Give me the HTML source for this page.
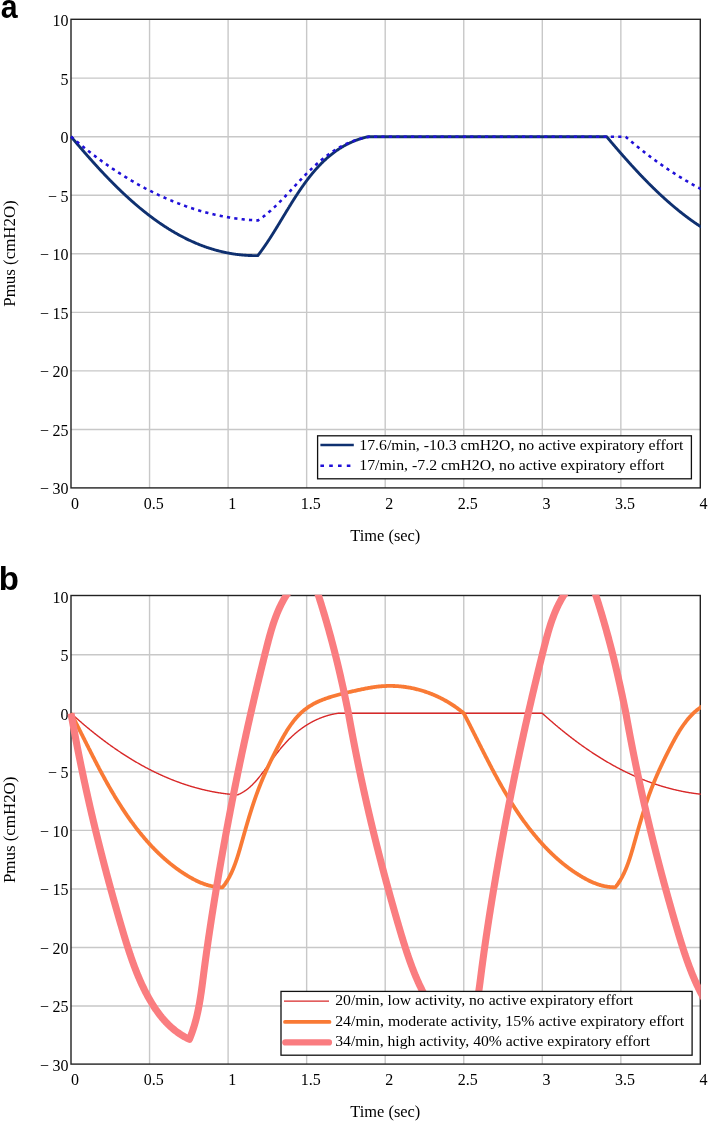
<!DOCTYPE html>
<html><head><meta charset="utf-8"><style>
html,body{margin:0;padding:0;background:#fff;}
svg{display:block;}
text{font-family:"Liberation Serif",serif;}
</style></head><body>
<svg width="709" height="1122" viewBox="0 0 709 1122" style="will-change:transform">
<rect x="0" y="0" width="709" height="1122" fill="#fff"/>
<defs>
<clipPath id="ca"><rect x="66" y="18.8" width="634.8" height="469.6"/></clipPath>
<clipPath id="cb"><rect x="66" y="594.8" width="634.8" height="469.8"/></clipPath>
</defs>

<path d="M149.55 19.30V487.90 M228.10 19.30V487.90 M306.65 19.30V487.90 M385.20 19.30V487.90 M463.75 19.30V487.90 M542.30 19.30V487.90 M620.85 19.30V487.90 M71.00 78.15H700.30 M71.00 136.70H700.30 M71.00 195.25H700.30 M71.00 253.80H700.30 M71.00 312.35H700.30 M71.00 370.90H700.30 M71.00 429.45H700.30" stroke="#c8c8c8" stroke-width="1.4" fill="none"/>
<rect x="71.00" y="19.30" width="629.30" height="468.60" fill="none" stroke="#222" stroke-width="1.4"/>
<text x="68.6" y="26.00" font-size="16" text-anchor="end">10</text>
<text x="68.6" y="84.55" font-size="16" text-anchor="end">5</text>
<text x="68.6" y="143.10" font-size="16" text-anchor="end">0</text>
<text x="68.6" y="201.65" font-size="16" text-anchor="end">5</text>
<text x="57.00" y="201.65" font-size="16" text-anchor="end">−</text>
<text x="68.6" y="260.20" font-size="16" text-anchor="end">10</text>
<text x="49.00" y="260.20" font-size="16" text-anchor="end">−</text>
<text x="68.6" y="318.75" font-size="16" text-anchor="end">15</text>
<text x="49.00" y="318.75" font-size="16" text-anchor="end">−</text>
<text x="68.6" y="377.30" font-size="16" text-anchor="end">20</text>
<text x="49.00" y="377.30" font-size="16" text-anchor="end">−</text>
<text x="68.6" y="435.85" font-size="16" text-anchor="end">25</text>
<text x="49.00" y="435.85" font-size="16" text-anchor="end">−</text>
<text x="68.6" y="494.40" font-size="16" text-anchor="end">30</text>
<text x="49.00" y="494.40" font-size="16" text-anchor="end">−</text>
<text x="75.10" y="508.70" font-size="16" text-anchor="middle">0</text>
<text x="153.65" y="508.70" font-size="16" text-anchor="middle">0.5</text>
<text x="232.20" y="508.70" font-size="16" text-anchor="middle">1</text>
<text x="310.75" y="508.70" font-size="16" text-anchor="middle">1.5</text>
<text x="389.30" y="508.70" font-size="16" text-anchor="middle">2</text>
<text x="467.85" y="508.70" font-size="16" text-anchor="middle">2.5</text>
<text x="546.40" y="508.70" font-size="16" text-anchor="middle">3</text>
<text x="624.95" y="508.70" font-size="16" text-anchor="middle">3.5</text>
<text x="703.50" y="508.70" font-size="16" text-anchor="middle">4</text>
<text x="385.3" y="540.60" font-size="16" text-anchor="middle" textLength="70" lengthAdjust="spacingAndGlyphs">Time (sec)</text>
<text transform="translate(15.2 253.50) rotate(-90)" font-size="16" text-anchor="middle" textLength="106.5" lengthAdjust="spacingAndGlyphs">Pmus (cmH2O)</text>
<text transform="translate(0.8 17.80) scale(0.92 1)" x="0" y="0" font-size="33" font-weight="bold" style="font-family:'Liberation Sans',sans-serif">a</text>
<path d="M149.55 595.50V1064.10 M228.10 595.50V1064.10 M306.65 595.50V1064.10 M385.20 595.50V1064.10 M463.75 595.50V1064.10 M542.30 595.50V1064.10 M620.85 595.50V1064.10 M71.00 654.75H700.30 M71.00 713.30H700.30 M71.00 771.85H700.30 M71.00 830.40H700.30 M71.00 888.95H700.30 M71.00 947.50H700.30 M71.00 1006.05H700.30" stroke="#c8c8c8" stroke-width="1.4" fill="none"/>
<rect x="71.00" y="595.50" width="629.30" height="468.60" fill="none" stroke="#222" stroke-width="1.4"/>
<text x="68.6" y="602.60" font-size="16" text-anchor="end">10</text>
<text x="68.6" y="661.15" font-size="16" text-anchor="end">5</text>
<text x="68.6" y="719.70" font-size="16" text-anchor="end">0</text>
<text x="68.6" y="778.25" font-size="16" text-anchor="end">5</text>
<text x="57.00" y="778.25" font-size="16" text-anchor="end">−</text>
<text x="68.6" y="836.80" font-size="16" text-anchor="end">10</text>
<text x="49.00" y="836.80" font-size="16" text-anchor="end">−</text>
<text x="68.6" y="895.35" font-size="16" text-anchor="end">15</text>
<text x="49.00" y="895.35" font-size="16" text-anchor="end">−</text>
<text x="68.6" y="953.90" font-size="16" text-anchor="end">20</text>
<text x="49.00" y="953.90" font-size="16" text-anchor="end">−</text>
<text x="68.6" y="1012.45" font-size="16" text-anchor="end">25</text>
<text x="49.00" y="1012.45" font-size="16" text-anchor="end">−</text>
<text x="68.6" y="1071.00" font-size="16" text-anchor="end">30</text>
<text x="49.00" y="1071.00" font-size="16" text-anchor="end">−</text>
<text x="75.10" y="1084.90" font-size="16" text-anchor="middle">0</text>
<text x="153.65" y="1084.90" font-size="16" text-anchor="middle">0.5</text>
<text x="232.20" y="1084.90" font-size="16" text-anchor="middle">1</text>
<text x="310.75" y="1084.90" font-size="16" text-anchor="middle">1.5</text>
<text x="389.30" y="1084.90" font-size="16" text-anchor="middle">2</text>
<text x="467.85" y="1084.90" font-size="16" text-anchor="middle">2.5</text>
<text x="546.40" y="1084.90" font-size="16" text-anchor="middle">3</text>
<text x="624.95" y="1084.90" font-size="16" text-anchor="middle">3.5</text>
<text x="703.50" y="1084.90" font-size="16" text-anchor="middle">4</text>
<text x="385.3" y="1116.80" font-size="16" text-anchor="middle" textLength="70" lengthAdjust="spacingAndGlyphs">Time (sec)</text>
<text transform="translate(15.2 829.80) rotate(-90)" font-size="16" text-anchor="middle" textLength="106.5" lengthAdjust="spacingAndGlyphs">Pmus (cmH2O)</text>
<text x="-1.3" y="589.50" font-size="33" font-weight="bold" style="font-family:'Liberation Sans',sans-serif">b</text>
<g clip-path="url(#ca)" fill="none" stroke-linejoin="round">
<path d="M71.00 136.70 L71.36 137.02 71.72 137.45 72.07 137.87 72.43 138.30 72.79 138.72 73.15 139.15 73.51 139.58 73.87 140.00 74.23 140.43 74.59 140.85 74.96 141.28 75.32 141.71 75.68 142.13 76.04 142.56 76.41 142.99 76.77 143.42 77.14 143.84 77.50 144.27 77.87 144.70 78.23 145.13 78.60 145.56 78.97 145.98 79.33 146.41 79.70 146.84 80.07 147.27 80.44 147.70 80.81 148.13 81.18 148.56 81.55 148.99 81.92 149.42 82.29 149.85 82.66 150.27 83.03 150.70 83.41 151.13 83.78 151.56 84.15 151.99 84.53 152.42 84.90 152.85 85.28 153.28 85.65 153.71 86.03 154.14 86.40 154.57 86.78 155.00 87.16 155.43 87.54 155.86 87.91 156.29 88.29 156.72 88.67 157.15 89.05 157.58 89.43 158.01 89.81 158.44 90.20 158.87 90.58 159.30 90.96 159.73 91.34 160.15 91.73 160.58 92.11 161.01 92.49 161.44 92.88 161.87 93.26 162.30 93.65 162.73 94.04 163.16 94.42 163.58 94.81 164.01 95.20 164.44 95.59 164.87 95.97 165.29 96.36 165.72 96.75 166.15 97.14 166.58 97.53 167.00 97.93 167.43 98.32 167.86 98.71 168.28 99.10 168.71 99.50 169.13 99.89 169.56 100.28 169.98 100.68 170.41 101.07 170.83 101.47 171.26 101.87 171.68 102.26 172.11 102.66 172.53 103.06 172.95 103.46 173.38 103.86 173.80 104.25 174.22 104.65 174.64 105.06 175.06 105.46 175.49 105.86 175.91 106.26 176.33 106.66 176.75 107.07 177.17 107.47 177.59 107.87 178.01 108.28 178.42 108.68 178.84 109.09 179.26 109.50 179.68 109.90 180.10 110.31 180.51 110.72 180.93 111.13 181.34 111.53 181.76 111.94 182.18 112.35 182.59 112.77 183.00 113.18 183.42 113.59 183.83 114.00 184.24 114.41 184.66 114.83 185.07 115.24 185.48 115.65 185.89 116.07 186.30 116.48 186.71 116.90 187.12 117.32 187.53 117.73 187.93 118.15 188.34 118.57 188.75 118.99 189.16 119.41 189.56 119.83 189.97 120.25 190.37 120.67 190.78 121.09 191.18 121.51 191.58 121.93 191.98 122.36 192.39 122.78 192.79 123.21 193.19 123.63 193.59 124.06 193.99 124.48 194.38 124.91 194.78 125.34 195.18 125.76 195.58 126.19 195.97 126.62 196.37 127.05 196.76 127.48 197.15 127.91 197.55 128.34 197.94 128.77 198.33 129.20 198.72 129.64 199.11 130.07 199.50 130.50 199.89 130.94 200.28 131.37 200.67 131.81 201.05 132.24 201.44 132.68 201.82 133.12 202.21 133.56 202.59 134.00 202.97 134.43 203.35 134.87 203.73 135.31 204.11 135.75 204.49 136.20 204.87 136.64 205.25 137.08 205.63 137.52 206.00 137.97 206.38 138.41 206.75 138.86 207.12 139.30 207.50 139.75 207.87 140.19 208.24 140.64 208.61 141.09 208.98 141.54 209.34 141.99 209.71 142.44 210.08 142.89 210.44 143.34 210.81 143.79 211.17 144.24 211.53 144.69 211.89 145.15 212.25 145.60 212.61 146.05 212.97 146.51 213.33 146.96 213.68 147.42 214.04 147.88 214.39 148.33 214.74 148.79 215.10 149.25 215.45 149.71 215.80 150.17 216.15 150.63 216.50 151.09 216.84 151.55 217.19 152.01 217.53 152.48 217.88 152.94 218.22 153.40 218.56 153.87 218.90 154.33 219.24 154.80 219.58 155.27 219.92 155.73 220.25 156.20 220.59 156.67 220.92 157.14 221.25 157.61 221.58 158.08 221.91 158.55 222.24 159.02 222.57 159.49 222.90 159.97 223.22 160.44 223.55 160.91 223.87 161.39 224.19 161.86 224.51 162.34 224.83 162.81 225.15 163.29 225.47 163.77 225.78 164.25 226.10 164.73 226.41 165.21 226.72 165.69 227.03 166.17 227.34 166.65 227.65 167.13 227.96 167.61 228.26 168.10 228.56 168.58 228.87 169.07 229.17 169.55 229.47 170.04 229.77 170.52 230.07 171.01 230.36 171.50 230.66 171.99 230.95 172.48 231.24 172.97 231.53 173.46 231.82 173.95 232.11 174.44 232.40 174.93 232.68 175.42 232.96 175.92 233.25 176.41 233.53 176.91 233.81 177.40 234.09 177.90 234.36 178.40 234.64 178.89 234.91 179.39 235.18 179.89 235.45 180.39 235.72 180.89 235.99 181.39 236.26 181.89 236.52 182.40 236.78 182.90 237.05 183.40 237.31 183.91 237.56 184.41 237.82 184.92 238.08 185.42 238.33 185.93 238.58 186.44 238.83 186.95 239.08 187.45 239.33 187.96 239.58 188.47 239.82 188.98 240.07 189.50 240.31 190.01 240.55 190.52 240.78 191.04 241.02 191.55 241.26 192.06 241.49 192.58 241.72 193.10 241.95 193.61 242.18 194.13 242.41 194.65 242.63 195.17 242.85 195.69 243.08 196.21 243.30 196.73 243.51 197.25 243.73 197.77 243.94 198.30 244.16 198.82 244.37 199.34 244.58 199.87 244.79 200.40 244.99 200.92 245.20 201.45 245.40 201.98 245.60 202.51 245.80 203.04 246.00 203.57 246.19 204.10 246.39 204.63 246.58 205.16 246.77 205.69 246.96 206.23 247.14 206.76 247.33 207.29 247.51 207.83 247.69 208.37 247.87 208.90 248.05 209.44 248.22 209.98 248.40 210.52 248.57 211.06 248.74 211.60 248.91 212.14 249.07 212.68 249.24 213.23 249.40 213.77 249.56 214.31 249.72 214.86 249.87 215.40 250.03 215.95 250.18 216.50 250.33 217.04 250.48 217.59 250.63 218.14 250.77 218.69 250.91 219.24 251.05 219.79 251.19 220.34 251.33 220.90 251.46 221.45 251.60 222.00 251.73 222.56 251.86 223.11 251.98 223.67 252.11 224.23 252.23 224.79 252.35 225.34 252.47 225.90 252.59 226.46 252.70 227.02 252.81 227.58 252.92 228.15 253.03 228.71 253.14 229.27 253.24 229.84 253.34 230.40 253.44 230.97 253.54 231.53 253.63 232.10 253.73 232.67 253.82 233.24 253.91 233.81 253.99 234.38 254.08 234.95 254.16 235.52 254.24 236.09 254.32 236.67 254.39 237.24 254.47 237.82 254.54 238.39 254.61 238.97 254.68 239.54 254.74 240.12 254.80 240.70 254.86 241.28 254.92 241.86 254.98 242.44 255.03 243.02 255.08 243.60 255.13 244.19 255.18 244.77 255.22 245.35 255.26 245.94 255.30 246.52 255.34 247.11 255.37 247.70 255.41 248.29 255.44 248.88 255.47 249.47 255.49 250.06 255.51 250.65 255.54 251.24 255.55 251.83 255.57 252.42 255.58 253.02 255.60 253.61 255.60 254.21 255.61 254.81 255.62 255.40 255.62 256.00 255.62 256.60 255.61 257.20 255.61 257.80 255.60 258.05 255.28 258.29 254.97 258.54 254.65 258.78 254.33 259.02 254.01 259.26 253.69 259.51 253.36 259.75 253.04 259.99 252.72 260.23 252.39 260.47 252.07 260.71 251.74 260.95 251.42 261.19 251.09 261.43 250.76 261.67 250.43 261.90 250.10 262.14 249.77 262.38 249.44 262.62 249.11 262.85 248.78 263.09 248.45 263.32 248.11 263.56 247.78 263.79 247.45 264.03 247.11 264.26 246.77 264.49 246.44 264.73 246.10 264.96 245.76 265.19 245.42 265.42 245.09 265.66 244.75 265.89 244.41 266.12 244.06 266.35 243.72 266.58 243.38 266.81 243.04 267.04 242.69 267.27 242.35 267.50 242.01 267.73 241.66 267.95 241.32 268.18 240.97 268.41 240.62 268.64 240.28 268.87 239.93 269.09 239.58 269.32 239.23 269.55 238.89 269.77 238.54 270.00 238.19 270.23 237.84 270.45 237.48 270.68 237.13 270.90 236.78 271.13 236.43 271.35 236.08 271.58 235.72 271.80 235.37 272.02 235.02 272.25 234.66 272.47 234.31 272.70 233.95 272.92 233.60 273.14 233.24 273.37 232.89 273.59 232.53 273.81 232.17 274.03 231.82 274.26 231.46 274.48 231.10 274.70 230.74 274.92 230.38 275.14 230.03 275.37 229.67 275.59 229.31 275.81 228.95 276.03 228.59 276.25 228.23 276.47 227.87 276.69 227.51 276.92 227.15 277.14 226.78 277.36 226.42 277.58 226.06 277.80 225.70 278.02 225.34 278.24 224.97 278.46 224.61 278.68 224.25 278.90 223.89 279.12 223.52 279.34 223.16 279.56 222.80 279.78 222.43 280.00 222.07 280.22 221.70 280.44 221.34 280.66 220.98 280.88 220.61 281.10 220.25 281.32 219.88 281.54 219.52 281.76 219.15 281.98 218.79 282.20 218.42 282.42 218.06 282.64 217.69 282.86 217.33 283.09 216.96 283.31 216.59 283.53 216.23 283.75 215.86 283.97 215.50 284.19 215.13 284.41 214.77 284.63 214.40 284.85 214.03 285.07 213.67 285.29 213.30 285.51 212.94 285.74 212.57 285.96 212.21 286.18 211.84 286.40 211.47 286.62 211.11 286.84 210.74 287.07 210.38 287.29 210.01 287.51 209.65 287.73 209.28 287.96 208.92 288.18 208.55 288.40 208.19 288.62 207.82 288.85 207.46 289.07 207.09 289.30 206.73 289.52 206.36 289.74 206.00 289.97 205.64 290.19 205.27 290.42 204.91 290.64 204.54 290.87 204.18 291.09 203.82 291.32 203.45 291.54 203.09 291.77 202.73 292.00 202.37 292.22 202.00 292.45 201.64 292.68 201.28 292.90 200.92 293.13 200.56 293.36 200.20 293.59 199.84 293.82 199.47 294.05 199.11 294.27 198.75 294.50 198.39 294.73 198.04 294.96 197.68 295.19 197.32 295.42 196.96 295.66 196.60 295.89 196.24 296.12 195.89 296.35 195.53 296.58 195.17 296.82 194.81 297.05 194.46 297.28 194.10 297.52 193.75 297.75 193.39 297.98 193.04 298.22 192.68 298.45 192.33 298.69 191.98 298.93 191.62 299.16 191.27 299.40 190.92 299.64 190.57 299.87 190.22 300.11 189.86 300.35 189.51 300.59 189.16 300.83 188.81 301.07 188.47 301.31 188.12 301.55 187.77 301.79 187.42 302.03 187.07 302.27 186.73 302.52 186.38 302.76 186.04 303.00 185.69 303.25 185.35 303.49 185.00 303.74 184.66 303.98 184.32 304.23 183.98 304.47 183.63 304.72 183.29 304.97 182.95 305.22 182.61 305.47 182.27 305.71 181.94 305.96 181.60 306.21 181.26 306.47 180.92 306.72 180.59 306.97 180.25 307.22 179.92 307.47 179.58 307.73 179.25 307.98 178.92 308.24 178.58 308.49 178.25 308.75 177.92 309.00 177.59 309.26 177.26 309.52 176.93 309.78 176.61 310.04 176.28 310.30 175.95 310.56 175.63 310.82 175.30 311.08 174.98 311.34 174.65 311.60 174.33 311.87 174.01 312.13 173.69 312.39 173.37 312.66 173.05 312.93 172.73 313.19 172.41 313.46 172.09 313.73 171.78 314.00 171.46 314.27 171.15 314.54 170.83 314.81 170.52 315.08 170.21 315.35 169.90 315.62 169.59 315.90 169.28 316.17 168.97 316.45 168.66 316.72 168.35 317.00 168.05 317.28 167.74 317.56 167.44 317.84 167.14 318.12 166.83 318.40 166.53 318.68 166.23 318.96 165.93 319.24 165.63 319.53 165.34 319.81 165.04 320.10 164.74 320.38 164.45 320.67 164.16 320.96 163.86 321.25 163.57 321.53 163.28 321.82 162.99 322.12 162.70 322.41 162.41 322.70 162.13 322.99 161.84 323.29 161.56 323.58 161.27 323.88 160.99 324.18 160.71 324.47 160.43 324.77 160.15 325.07 159.87 325.37 159.60 325.68 159.32 325.98 159.05 326.28 158.77 326.59 158.50 326.89 158.23 327.20 157.96 327.50 157.69 327.81 157.42 328.12 157.16 328.43 156.89 328.74 156.63 329.05 156.36 329.37 156.10 329.68 155.84 329.99 155.58 330.31 155.32 330.63 155.07 330.94 154.81 331.26 154.56 331.58 154.30 331.90 154.05 332.22 153.80 332.55 153.55 332.87 153.30 333.19 153.06 333.52 152.81 333.85 152.57 334.17 152.32 334.50 152.08 334.83 151.84 335.16 151.60 335.49 151.36 335.83 151.13 336.16 150.89 336.50 150.66 336.83 150.42 337.17 150.19 337.51 149.96 337.85 149.73 338.19 149.51 338.53 149.28 338.87 149.06 339.21 148.83 339.56 148.61 339.90 148.39 340.25 148.17 340.60 147.96 340.95 147.74 341.30 147.53 341.65 147.31 342.00 147.10 342.36 146.89 342.71 146.68 343.07 146.48 343.43 146.27 343.78 146.07 344.14 145.86 344.50 145.66 344.87 145.46 345.23 145.27 345.59 145.07 345.96 144.87 346.33 144.68 346.69 144.49 347.06 144.30 347.43 144.11 347.81 143.92 348.18 143.74 348.55 143.55 348.93 143.37 349.30 143.19 349.68 143.01 350.06 142.83 350.44 142.65 350.82 142.48 351.21 142.31 351.59 142.14 351.98 141.97 352.36 141.80 352.75 141.63 353.14 141.47 353.53 141.30 353.92 141.14 354.32 140.98 354.71 140.82 355.11 140.67 355.50 140.51 355.90 140.36 356.30 140.21 356.70 140.06 357.11 139.91 357.51 139.77 357.92 139.62 358.32 139.48 358.73 139.34 359.14 139.20 359.55 139.06 359.96 138.93 360.38 138.79 360.79 138.66 361.21 138.53 361.62 138.40 362.04 138.28 362.46 138.15 362.89 138.03 363.31 137.91 363.73 137.79 364.16 137.67 364.59 137.55 365.02 137.44 365.45 137.33 365.88 137.22 366.31 137.11 366.75 137.00 367.18 136.90 367.62 136.80 368.06 136.70 368.50 136.70 606.57 136.70 606.93 137.02 607.28 137.45 607.64 137.87 608.00 138.30 608.36 138.72 608.72 139.15 609.08 139.58 609.44 140.00 609.80 140.43 610.16 140.85 610.52 141.28 610.89 141.71 611.25 142.13 611.61 142.56 611.98 142.99 612.34 143.42 612.70 143.84 613.07 144.27 613.44 144.70 613.80 145.13 614.17 145.56 614.53 145.98 614.90 146.41 615.27 146.84 615.64 147.27 616.01 147.70 616.38 148.13 616.75 148.56 617.12 148.99 617.49 149.42 617.86 149.85 618.23 150.27 618.60 150.70 618.97 151.13 619.35 151.56 619.72 151.99 620.10 152.42 620.47 152.85 620.84 153.28 621.22 153.71 621.60 154.14 621.97 154.57 622.35 155.00 622.73 155.43 623.10 155.86 623.48 156.29 623.86 156.72 624.24 157.15 624.62 157.58 625.00 158.01 625.38 158.44 625.76 158.87 626.15 159.30 626.53 159.73 626.91 160.15 627.29 160.58 627.68 161.01 628.06 161.44 628.45 161.87 628.83 162.30 629.22 162.73 629.60 163.16 629.99 163.58 630.38 164.01 630.77 164.44 631.15 164.87 631.54 165.29 631.93 165.72 632.32 166.15 632.71 166.58 633.10 167.00 633.49 167.43 633.89 167.86 634.28 168.28 634.67 168.71 635.06 169.13 635.46 169.56 635.85 169.98 636.25 170.41 636.64 170.83 637.04 171.26 637.43 171.68 637.83 172.11 638.23 172.53 638.63 172.95 639.02 173.38 639.42 173.80 639.82 174.22 640.22 174.64 640.62 175.06 641.02 175.49 641.43 175.91 641.83 176.33 642.23 176.75 642.63 177.17 643.04 177.59 643.44 178.01 643.85 178.42 644.25 178.84 644.66 179.26 645.06 179.68 645.47 180.10 645.88 180.51 646.29 180.93 646.69 181.34 647.10 181.76 647.51 182.18 647.92 182.59 648.33 183.00 648.74 183.42 649.16 183.83 649.57 184.24 649.98 184.66 650.39 185.07 650.81 185.48 651.22 185.89 651.64 186.30 652.05 186.71 652.47 187.12 652.89 187.53 653.30 187.93 653.72 188.34 654.14 188.75 654.56 189.16 654.98 189.56 655.40 189.97 655.82 190.37 656.24 190.78 656.66 191.18 657.08 191.58 657.50 191.98 657.93 192.39 658.35 192.79 658.77 193.19 659.20 193.59 659.62 193.99 660.05 194.38 660.48 194.78 660.90 195.18 661.33 195.58 661.76 195.97 662.19 196.37 662.62 196.76 663.05 197.15 663.48 197.55 663.91 197.94 664.34 198.33 664.77 198.72 665.20 199.11 665.64 199.50 666.07 199.89 666.51 200.28 666.94 200.67 667.38 201.05 667.81 201.44 668.25 201.82 668.69 202.21 669.12 202.59 669.56 202.97 670.00 203.35 670.44 203.73 670.88 204.11 671.32 204.49 671.76 204.87 672.21 205.25 672.65 205.63 673.09 206.00 673.54 206.38 673.98 206.75 674.42 207.12 674.87 207.50 675.32 207.87 675.76 208.24 676.21 208.61 676.66 208.98 677.11 209.34 677.55 209.71 678.00 210.08 678.45 210.44 678.90 210.81 679.36 211.17 679.81 211.53 680.26 211.89 680.71 212.25 681.17 212.61 681.62 212.97 682.08 213.33 682.53 213.68 682.99 214.04 683.45 214.39 683.90 214.74 684.36 215.10 684.82 215.45 685.28 215.80 685.74 216.15 686.20 216.50 686.66 216.84 687.12 217.19 687.58 217.53 688.05 217.88 688.51 218.22 688.97 218.56 689.44 218.90 689.90 219.24 690.37 219.58 690.84 219.92 691.30 220.25 691.77 220.59 692.24 220.92 692.71 221.25 693.18 221.58 693.65 221.91 694.12 222.24 694.59 222.57 695.06 222.90 695.53 223.22 696.01 223.55 696.48 223.87 696.96 224.19 697.43 224.51 697.91 224.83 698.38 225.15 698.86 225.47 699.34 225.78 699.82 226.10 700.29 226.41 700.77 226.72 701.25 227.03 701.74 227.34 702.22 227.65 702.70 227.96 703.18 228.26 703.67 228.56 704.15 228.87 704.63 229.17 705.12 229.47 705.60 229.77 706.09 230.07 706.58 230.36 707.07 230.66 707.56 230.95" stroke="#0f3070" stroke-width="2.9"/>
<path d="M71.00 136.70 L71.39 136.94 71.78 137.28 72.18 137.62 72.57 137.96 72.96 138.30 73.36 138.64 73.75 138.98 74.15 139.32 74.54 139.66 74.94 139.99 75.34 140.33 75.73 140.67 76.13 141.00 76.53 141.34 76.93 141.68 77.33 142.01 77.73 142.35 78.13 142.68 78.53 143.01 78.93 143.35 79.33 143.68 79.73 144.01 80.13 144.35 80.54 144.68 80.94 145.01 81.34 145.34 81.75 145.67 82.15 146.00 82.56 146.33 82.96 146.66 83.37 146.99 83.77 147.32 84.18 147.65 84.59 147.98 84.99 148.30 85.40 148.63 85.81 148.96 86.22 149.28 86.63 149.61 87.04 149.94 87.45 150.26 87.86 150.58 88.27 150.91 88.68 151.23 89.09 151.55 89.51 151.88 89.92 152.20 90.33 152.52 90.75 152.84 91.16 153.16 91.57 153.48 91.99 153.80 92.41 154.12 92.82 154.44 93.24 154.76 93.65 155.08 94.07 155.39 94.49 155.71 94.91 156.03 95.33 156.34 95.75 156.66 96.16 156.97 96.58 157.29 97.00 157.60 97.43 157.91 97.85 158.23 98.27 158.54 98.69 158.85 99.11 159.16 99.54 159.47 99.96 159.78 100.38 160.09 100.81 160.40 101.23 160.71 101.66 161.02 102.08 161.33 102.51 161.63 102.93 161.94 103.36 162.25 103.79 162.55 104.21 162.86 104.64 163.16 105.07 163.46 105.50 163.77 105.93 164.07 106.36 164.37 106.79 164.67 107.22 164.97 107.65 165.28 108.08 165.58 108.51 165.87 108.94 166.17 109.38 166.47 109.81 166.77 110.24 167.07 110.68 167.36 111.11 167.66 111.55 167.95 111.98 168.25 112.42 168.54 112.85 168.84 113.29 169.13 113.72 169.42 114.16 169.72 114.60 170.01 115.04 170.30 115.48 170.59 115.91 170.88 116.35 171.17 116.79 171.45 117.23 171.74 117.67 172.03 118.11 172.32 118.55 172.60 119.00 172.89 119.44 173.17 119.88 173.46 120.32 173.74 120.76 174.02 121.21 174.30 121.65 174.59 122.10 174.87 122.54 175.15 122.99 175.43 123.43 175.70 123.88 175.98 124.32 176.26 124.77 176.54 125.22 176.81 125.66 177.09 126.11 177.37 126.56 177.64 127.01 177.91 127.46 178.19 127.91 178.46 128.36 178.73 128.81 179.00 129.26 179.27 129.71 179.54 130.16 179.81 130.61 180.08 131.06 180.35 131.51 180.62 131.97 180.88 132.42 181.15 132.87 181.41 133.33 181.68 133.78 181.94 134.24 182.20 134.69 182.47 135.15 182.73 135.60 182.99 136.06 183.25 136.51 183.51 136.97 183.77 137.43 184.03 137.89 184.28 138.34 184.54 138.80 184.80 139.26 185.05 139.72 185.31 140.18 185.56 140.64 185.81 141.10 186.06 141.56 186.32 142.02 186.57 142.48 186.82 142.94 187.07 143.41 187.32 143.87 187.56 144.33 187.81 144.79 188.06 145.26 188.30 145.72 188.55 146.19 188.79 146.65 189.04 147.12 189.28 147.58 189.52 148.05 189.76 148.51 190.00 148.98 190.24 149.45 190.48 149.91 190.72 150.38 190.96 150.85 191.19 151.32 191.43 151.78 191.66 152.25 191.90 152.72 192.13 153.19 192.37 153.66 192.60 154.13 192.83 154.60 193.06 155.07 193.29 155.54 193.52 156.02 193.75 156.49 193.97 156.96 194.20 157.43 194.42 157.91 194.65 158.38 194.87 158.85 195.10 159.33 195.32 159.80 195.54 160.28 195.76 160.75 195.98 161.23 196.20 161.70 196.42 162.18 196.64 162.66 196.85 163.13 197.07 163.61 197.28 164.09 197.50 164.56 197.71 165.04 197.92 165.52 198.14 166.00 198.35 166.48 198.56 166.96 198.77 167.44 198.97 167.92 199.18 168.40 199.39 168.88 199.59 169.36 199.80 169.84 200.00 170.32 200.21 170.81 200.41 171.29 200.61 171.77 200.81 172.26 201.01 172.74 201.21 173.22 201.41 173.71 201.60 174.19 201.80 174.68 201.99 175.16 202.19 175.65 202.38 176.13 202.57 176.62 202.77 177.10 202.96 177.59 203.15 178.08 203.34 178.57 203.52 179.05 203.71 179.54 203.90 180.03 204.08 180.52 204.27 181.01 204.45 181.50 204.63 181.99 204.82 182.48 205.00 182.97 205.18 183.46 205.35 183.95 205.53 184.44 205.71 184.93 205.89 185.42 206.06 185.91 206.24 186.41 206.41 186.90 206.58 187.39 206.75 187.88 206.92 188.38 207.09 188.87 207.26 189.37 207.43 189.86 207.60 190.36 207.76 190.85 207.93 191.35 208.09 191.84 208.25 192.34 208.42 192.83 208.58 193.33 208.74 193.83 208.90 194.32 209.05 194.82 209.21 195.32 209.37 195.82 209.52 196.32 209.68 196.82 209.83 197.31 209.98 197.81 210.13 198.31 210.28 198.81 210.43 199.31 210.58 199.81 210.73 200.31 210.88 200.82 211.02 201.32 211.16 201.82 211.31 202.32 211.45 202.82 211.59 203.33 211.73 203.83 211.87 204.33 212.01 204.83 212.15 205.34 212.28 205.84 212.42 206.35 212.55 206.85 212.68 207.36 212.82 207.86 212.95 208.37 213.08 208.87 213.21 209.38 213.33 209.88 213.46 210.39 213.59 210.90 213.71 211.40 213.84 211.91 213.96 212.42 214.08 212.93 214.20 213.43 214.32 213.94 214.44 214.45 214.56 214.96 214.67 215.47 214.79 215.98 214.90 216.49 215.02 217.00 215.13 217.51 215.24 218.02 215.35 218.53 215.46 219.04 215.56 219.55 215.67 220.07 215.78 220.58 215.88 221.09 215.98 221.60 216.09 222.12 216.19 222.63 216.29 223.14 216.39 223.65 216.49 224.17 216.58 224.68 216.68 225.20 216.77 225.71 216.87 226.23 216.96 226.74 217.05 227.26 217.14 227.77 217.23 228.29 217.32 228.80 217.40 229.32 217.49 229.84 217.57 230.35 217.66 230.87 217.74 231.39 217.82 231.91 217.90 232.42 217.98 232.94 218.06 233.46 218.13 233.98 218.21 234.50 218.28 235.02 218.36 235.54 218.43 236.06 218.50 236.58 218.57 237.10 218.64 237.62 218.70 238.14 218.77 238.66 218.84 239.18 218.90 239.70 218.96 240.22 219.02 240.75 219.08 241.27 219.14 241.79 219.20 242.31 219.26 242.84 219.31 243.36 219.37 243.88 219.42 244.41 219.47 244.93 219.52 245.45 219.57 245.98 219.62 246.50 219.67 247.03 219.71 247.55 219.76 248.08 219.80 248.60 219.85 249.13 219.89 249.65 219.93 250.18 219.97 250.71 220.00 251.23 220.04 251.76 220.07 252.29 220.11 252.81 220.14 253.34 220.17 253.87 220.20 254.40 220.23 254.93 220.26 255.45 220.29 255.98 220.31 256.51 220.34 257.04 220.36 257.57 220.38 258.10 220.40 258.39 220.21 258.68 220.01 258.96 219.81 259.25 219.61 259.54 219.41 259.82 219.21 260.10 219.01 260.39 218.81 260.67 218.60 260.95 218.40 261.24 218.19 261.52 217.99 261.80 217.78 262.08 217.57 262.36 217.36 262.64 217.15 262.91 216.94 263.19 216.73 263.47 216.52 263.75 216.30 264.02 216.09 264.30 215.87 264.57 215.66 264.85 215.44 265.12 215.22 265.39 215.00 265.67 214.78 265.94 214.56 266.21 214.34 266.48 214.12 266.75 213.90 267.02 213.67 267.29 213.45 267.56 213.22 267.83 213.00 268.10 212.77 268.37 212.55 268.64 212.32 268.90 212.09 269.17 211.86 269.44 211.63 269.70 211.40 269.97 211.17 270.23 210.93 270.50 210.70 270.76 210.47 271.02 210.23 271.29 210.00 271.55 209.76 271.81 209.53 272.07 209.29 272.34 209.05 272.60 208.81 272.86 208.58 273.12 208.34 273.38 208.10 273.64 207.86 273.90 207.61 274.16 207.37 274.41 207.13 274.67 206.89 274.93 206.64 275.19 206.40 275.44 206.15 275.70 205.91 275.96 205.66 276.21 205.42 276.47 205.17 276.73 204.92 276.98 204.68 277.24 204.43 277.49 204.18 277.74 203.93 278.00 203.68 278.25 203.43 278.51 203.18 278.76 202.93 279.01 202.68 279.26 202.42 279.52 202.17 279.77 201.92 280.02 201.67 280.27 201.41 280.52 201.16 280.78 200.90 281.03 200.65 281.28 200.39 281.53 200.14 281.78 199.88 282.03 199.62 282.28 199.37 282.53 199.11 282.78 198.85 283.03 198.60 283.28 198.34 283.52 198.08 283.77 197.82 284.02 197.56 284.27 197.30 284.52 197.04 284.77 196.78 285.02 196.52 285.26 196.26 285.51 196.00 285.76 195.74 286.01 195.48 286.25 195.22 286.50 194.96 286.75 194.69 286.99 194.43 287.24 194.17 287.49 193.91 287.73 193.65 287.98 193.38 288.23 193.12 288.47 192.86 288.72 192.59 288.97 192.33 289.21 192.07 289.46 191.80 289.71 191.54 289.95 191.27 290.20 191.01 290.44 190.74 290.69 190.48 290.94 190.22 291.18 189.95 291.43 189.69 291.67 189.42 291.92 189.16 292.16 188.89 292.41 188.63 292.66 188.36 292.90 188.10 293.15 187.83 293.39 187.57 293.64 187.30 293.89 187.04 294.13 186.77 294.38 186.51 294.62 186.24 294.87 185.97 295.12 185.71 295.36 185.44 295.61 185.18 295.85 184.91 296.10 184.65 296.35 184.38 296.59 184.12 296.84 183.85 297.09 183.59 297.33 183.33 297.58 183.06 297.83 182.80 298.08 182.53 298.32 182.27 298.57 182.00 298.82 181.74 299.07 181.48 299.31 181.21 299.56 180.95 299.81 180.69 300.06 180.42 300.31 180.16 300.55 179.90 300.80 179.63 301.05 179.37 301.30 179.11 301.55 178.85 301.80 178.59 302.05 178.32 302.30 178.06 302.55 177.80 302.80 177.54 303.05 177.28 303.30 177.02 303.55 176.76 303.80 176.50 304.06 176.24 304.31 175.98 304.56 175.72 304.81 175.46 305.06 175.20 305.32 174.95 305.57 174.69 305.82 174.43 306.08 174.17 306.33 173.92 306.58 173.66 306.84 173.41 307.09 173.15 307.35 172.89 307.60 172.64 307.86 172.39 308.11 172.13 308.37 171.88 308.63 171.62 308.88 171.37 309.14 171.12 309.40 170.87 309.65 170.62 309.91 170.36 310.17 170.11 310.43 169.86 310.69 169.61 310.95 169.36 311.21 169.12 311.47 168.87 311.73 168.62 311.99 168.37 312.25 168.12 312.51 167.88 312.77 167.63 313.03 167.39 313.30 167.14 313.56 166.90 313.82 166.65 314.08 166.41 314.35 166.17 314.61 165.92 314.88 165.68 315.14 165.44 315.41 165.20 315.67 164.96 315.94 164.72 316.20 164.48 316.47 164.24 316.74 164.00 317.01 163.77 317.27 163.53 317.54 163.29 317.81 163.06 318.08 162.82 318.35 162.59 318.62 162.35 318.89 162.12 319.16 161.89 319.43 161.66 319.70 161.43 319.98 161.20 320.25 160.97 320.52 160.74 320.80 160.51 321.07 160.28 321.34 160.05 321.62 159.83 321.89 159.60 322.17 159.37 322.44 159.15 322.72 158.93 323.00 158.70 323.28 158.48 323.55 158.26 323.83 158.04 324.11 157.82 324.39 157.60 324.67 157.38 324.95 157.16 325.23 156.94 325.51 156.73 325.79 156.51 326.08 156.30 326.36 156.08 326.64 155.87 326.92 155.66 327.21 155.44 327.49 155.23 327.78 155.02 328.06 154.81 328.35 154.60 328.64 154.40 328.92 154.19 329.21 153.98 329.50 153.78 329.79 153.57 330.08 153.37 330.37 153.17 330.66 152.97 330.95 152.76 331.24 152.56 331.53 152.37 331.82 152.17 332.12 151.97 332.41 151.77 332.70 151.58 333.00 151.38 333.29 151.19 333.59 151.00 333.88 150.80 334.18 150.61 334.48 150.42 334.78 150.23 335.08 150.04 335.37 149.86 335.67 149.67 335.97 149.48 336.27 149.30 336.58 149.12 336.88 148.93 337.18 148.75 337.48 148.57 337.79 148.39 338.09 148.21 338.40 148.04 338.70 147.86 339.01 147.68 339.32 147.51 339.62 147.34 339.93 147.16 340.24 146.99 340.55 146.82 340.86 146.65 341.17 146.48 341.48 146.32 341.79 146.15 342.10 145.99 342.42 145.82 342.73 145.66 343.04 145.50 343.36 145.34 343.67 145.18 343.99 145.02 344.31 144.86 344.62 144.71 344.94 144.55 345.26 144.40 345.58 144.24 345.90 144.09 346.22 143.94 346.54 143.79 346.87 143.64 347.19 143.50 347.51 143.35 347.84 143.21 348.16 143.06 348.49 142.92 348.81 142.78 349.14 142.64 349.47 142.50 349.80 142.36 350.12 142.23 350.45 142.09 350.78 141.96 351.12 141.83 351.45 141.69 351.78 141.56 352.11 141.44 352.45 141.31 352.78 141.18 353.12 141.06 353.45 140.93 353.79 140.81 354.13 140.69 354.47 140.57 354.81 140.45 355.15 140.33 355.49 140.22 355.83 140.10 356.17 139.99 356.51 139.88 356.86 139.77 357.20 139.66 357.55 139.55 357.89 139.44 358.24 139.34 358.59 139.23 358.93 139.13 359.28 139.03 359.63 138.93 359.98 138.83 360.33 138.73 360.69 138.64 361.04 138.54 361.39 138.45 361.75 138.36 362.10 138.27 362.46 138.18 362.82 138.09 363.17 138.01 363.53 137.92 363.89 137.84 364.25 137.76 364.61 137.68 364.97 137.60 365.34 137.52 365.70 137.45 366.06 137.37 366.43 137.30 366.80 137.23 367.16 137.16 367.53 137.09 367.90 137.02 368.27 136.96 368.64 136.90 369.01 136.83 369.38 136.77 369.75 136.71 370.13 136.70 370.50 136.70 625.47 136.70 625.86 136.94 626.26 137.28 626.65 137.62 627.04 137.96 627.44 138.30 627.83 138.64 628.22 138.98 628.62 139.32 629.02 139.66 629.41 139.99 629.81 140.33 630.21 140.67 630.60 141.00 631.00 141.34 631.40 141.68 631.80 142.01 632.20 142.35 632.60 142.68 633.00 143.01 633.40 143.35 633.80 143.68 634.20 144.01 634.60 144.35 635.01 144.68 635.41 145.01 635.81 145.34 636.22 145.67 636.62 146.00 637.03 146.33 637.43 146.66 637.84 146.99 638.24 147.32 638.65 147.65 639.06 147.98 639.46 148.30 639.87 148.63 640.28 148.96 640.69 149.28 641.10 149.61 641.51 149.94 641.92 150.26 642.33 150.58 642.74 150.91 643.15 151.23 643.56 151.55 643.98 151.88 644.39 152.20 644.80 152.52 645.22 152.84 645.63 153.16 646.05 153.48 646.46 153.80 646.88 154.12 647.29 154.44 647.71 154.76 648.13 155.08 648.54 155.39 648.96 155.71 649.38 156.03 649.80 156.34 650.22 156.66 650.64 156.97 651.06 157.29 651.48 157.60 651.90 157.91 652.32 158.23 652.74 158.54 653.16 158.85 653.58 159.16 654.01 159.47 654.43 159.78 654.85 160.09 655.28 160.40 655.70 160.71 656.13 161.02 656.55 161.33 656.98 161.63 657.40 161.94 657.83 162.25 658.26 162.55 658.69 162.86 659.11 163.16 659.54 163.46 659.97 163.77 660.40 164.07 660.83 164.37 661.26 164.67 661.69 164.97 662.12 165.28 662.55 165.58 662.98 165.87 663.42 166.17 663.85 166.47 664.28 166.77 664.71 167.07 665.15 167.36 665.58 167.66 666.02 167.95 666.45 168.25 666.89 168.54 667.32 168.84 667.76 169.13 668.20 169.42 668.63 169.72 669.07 170.01 669.51 170.30 669.95 170.59 670.38 170.88 670.82 171.17 671.26 171.45 671.70 171.74 672.14 172.03 672.58 172.32 673.02 172.60 673.47 172.89 673.91 173.17 674.35 173.46 674.79 173.74 675.24 174.02 675.68 174.30 676.12 174.59 676.57 174.87 677.01 175.15 677.46 175.43 677.90 175.70 678.35 175.98 678.79 176.26 679.24 176.54 679.69 176.81 680.13 177.09 680.58 177.37 681.03 177.64 681.48 177.91 681.93 178.19 682.38 178.46 682.83 178.73 683.28 179.00 683.73 179.27 684.18 179.54 684.63 179.81 685.08 180.08 685.53 180.35 685.98 180.62 686.44 180.88 686.89 181.15 687.34 181.41 687.80 181.68 688.25 181.94 688.71 182.20 689.16 182.47 689.62 182.73 690.07 182.99 690.53 183.25 690.98 183.51 691.44 183.77 691.90 184.03 692.36 184.28 692.81 184.54 693.27 184.80 693.73 185.05 694.19 185.31 694.65 185.56 695.11 185.81 695.57 186.06 696.03 186.32 696.49 186.57 696.95 186.82 697.41 187.07 697.88 187.32 698.34 187.56 698.80 187.81 699.26 188.06 699.73 188.30 700.19 188.55 700.66 188.79 701.12 189.04 701.59 189.28 702.05 189.52 702.52 189.76 702.98 190.00 703.45 190.24 703.92 190.48 704.38 190.72 704.85 190.96 705.32 191.19 705.79 191.43 706.25 191.66 706.72 191.90 707.19 192.13 707.66 192.37" stroke="#2010d8" stroke-width="2.6" stroke-dasharray="3.2 4.2"/>
</g>
<rect x="317.6" y="435.8" width="373.8" height="43" fill="#fff" stroke="#111" stroke-width="1.3"/>
<path d="M320.4 445H353.8" stroke="#0f3070" stroke-width="2.4"/>
<path d="M320.4 465.8H351" stroke="#2010d8" stroke-width="2.5" stroke-dasharray="3.6 5.2"/>
<text x="359.3" y="449.8" font-size="15.2" textLength="324" lengthAdjust="spacingAndGlyphs">17.6/min, -10.3 cmH2O, no active expiratory effort</text>
<text x="359.3" y="470.1" font-size="15.2" textLength="305" lengthAdjust="spacingAndGlyphs">17/min, -7.2 cmH2O, no active expiratory effort</text>
<g clip-path="url(#cb)" fill="none" stroke-linejoin="round">
<path d="M71.00 713.30 L71.35 713.62 71.70 713.93 72.05 714.25 72.40 714.57 72.75 714.89 73.11 715.20 73.46 715.52 73.81 715.84 74.16 716.15 74.52 716.47 74.87 716.78 75.22 717.10 75.58 717.41 75.93 717.72 76.29 718.04 76.64 718.35 77.00 718.67 77.35 718.98 77.71 719.29 78.06 719.60 78.42 719.92 78.78 720.23 79.14 720.54 79.49 720.85 79.85 721.16 80.21 721.47 80.57 721.78 80.93 722.09 81.29 722.40 81.64 722.71 82.00 723.02 82.36 723.33 82.73 723.63 83.09 723.94 83.45 724.25 83.81 724.55 84.17 724.86 84.53 725.17 84.90 725.47 85.26 725.78 85.62 726.08 85.98 726.39 86.35 726.69 86.71 727.00 87.08 727.30 87.44 727.60 87.81 727.91 88.17 728.21 88.54 728.51 88.90 728.81 89.27 729.11 89.64 729.41 90.00 729.72 90.37 730.02 90.74 730.32 91.11 730.61 91.48 730.91 91.84 731.21 92.21 731.51 92.58 731.81 92.95 732.10 93.32 732.40 93.69 732.70 94.06 732.99 94.43 733.29 94.81 733.59 95.18 733.88 95.55 734.17 95.92 734.47 96.29 734.76 96.67 735.05 97.04 735.35 97.41 735.64 97.79 735.93 98.16 736.22 98.54 736.51 98.91 736.80 99.29 737.09 99.66 737.38 100.04 737.67 100.42 737.96 100.79 738.25 101.17 738.54 101.55 738.82 101.92 739.11 102.30 739.40 102.68 739.68 103.06 739.97 103.44 740.25 103.82 740.54 104.20 740.82 104.58 741.11 104.96 741.39 105.34 741.67 105.72 741.95 106.10 742.23 106.48 742.52 106.86 742.80 107.25 743.08 107.63 743.36 108.01 743.64 108.40 743.91 108.78 744.19 109.16 744.47 109.55 744.75 109.93 745.02 110.32 745.30 110.70 745.58 111.09 745.85 111.47 746.12 111.86 746.40 112.25 746.67 112.63 746.95 113.02 747.22 113.41 747.49 113.80 747.76 114.19 748.03 114.57 748.30 114.96 748.57 115.35 748.84 115.74 749.11 116.13 749.38 116.52 749.65 116.91 749.91 117.30 750.18 117.70 750.45 118.09 750.71 118.48 750.98 118.87 751.24 119.26 751.50 119.66 751.77 120.05 752.03 120.44 752.29 120.84 752.55 121.23 752.81 121.63 753.07 122.02 753.33 122.42 753.59 122.81 753.85 123.21 754.11 123.61 754.37 124.00 754.62 124.40 754.88 124.80 755.14 125.20 755.39 125.59 755.64 125.99 755.90 126.39 756.15 126.79 756.40 127.19 756.66 127.59 756.91 127.99 757.16 128.39 757.41 128.79 757.66 129.19 757.91 129.59 758.16 130.00 758.40 130.40 758.65 130.80 758.90 131.20 759.14 131.61 759.39 132.01 759.63 132.41 759.88 132.82 760.12 133.22 760.36 133.63 760.61 134.03 760.85 134.44 761.09 134.84 761.33 135.25 761.57 135.66 761.81 136.06 762.04 136.47 762.28 136.88 762.52 137.29 762.76 137.70 762.99 138.10 763.23 138.51 763.46 138.92 763.69 139.33 763.93 139.74 764.16 140.15 764.39 140.56 764.62 140.98 764.85 141.39 765.08 141.80 765.31 142.21 765.54 142.62 765.77 143.04 765.99 143.45 766.22 143.86 766.44 144.28 766.67 144.69 766.89 145.10 767.12 145.52 767.34 145.94 767.56 146.35 767.78 146.77 768.00 147.18 768.22 147.60 768.44 148.02 768.66 148.43 768.88 148.85 769.09 149.27 769.31 149.69 769.52 150.11 769.74 150.53 769.95 150.94 770.17 151.36 770.38 151.78 770.59 152.20 770.80 152.63 771.01 153.05 771.22 153.47 771.43 153.89 771.64 154.31 771.85 154.73 772.05 155.16 772.26 155.58 772.46 156.00 772.67 156.43 772.87 156.85 773.07 157.28 773.28 157.70 773.48 158.13 773.68 158.55 773.88 158.98 774.08 159.40 774.27 159.83 774.47 160.26 774.67 160.69 774.86 161.11 775.06 161.54 775.25 161.97 775.45 162.40 775.64 162.83 775.83 163.26 776.02 163.69 776.21 164.12 776.40 164.55 776.59 164.98 776.78 165.41 776.97 165.84 777.15 166.27 777.34 166.70 777.52 167.14 777.71 167.57 777.89 168.00 778.07 168.44 778.25 168.87 778.43 169.31 778.61 169.74 778.79 170.18 778.97 170.61 779.15 171.05 779.32 171.48 779.50 171.92 779.67 172.36 779.85 172.79 780.02 173.23 780.19 173.67 780.36 174.11 780.53 174.54 780.70 174.98 780.87 175.42 781.04 175.86 781.21 176.30 781.37 176.74 781.54 177.18 781.70 177.62 781.87 178.07 782.03 178.51 782.19 178.95 782.35 179.39 782.51 179.83 782.67 180.28 782.83 180.72 782.99 181.16 783.14 181.61 783.30 182.05 783.46 182.50 783.61 182.94 783.76 183.39 783.91 183.83 784.07 184.28 784.22 184.73 784.37 185.17 784.51 185.62 784.66 186.07 784.81 186.52 784.95 186.97 785.10 187.41 785.24 187.86 785.39 188.31 785.53 188.76 785.67 189.21 785.81 189.66 785.95 190.11 786.09 190.57 786.23 191.02 786.36 191.47 786.50 191.92 786.63 192.37 786.77 192.83 786.90 193.28 787.03 193.73 787.16 194.19 787.29 194.64 787.42 195.10 787.55 195.55 787.68 196.01 787.80 196.46 787.93 196.92 788.05 197.38 788.17 197.83 788.30 198.29 788.42 198.75 788.54 199.21 788.66 199.67 788.78 200.12 788.89 200.58 789.01 201.04 789.13 201.50 789.24 201.96 789.35 202.42 789.47 202.88 789.58 203.35 789.69 203.81 789.80 204.27 789.91 204.73 790.01 205.19 790.12 205.66 790.23 206.12 790.33 206.58 790.43 207.05 790.54 207.51 790.64 207.98 790.74 208.44 790.84 208.91 790.94 209.37 791.03 209.84 791.13 210.31 791.23 210.77 791.32 211.24 791.41 211.71 791.51 212.18 791.60 212.65 791.69 213.11 791.78 213.58 791.87 214.05 791.95 214.52 792.04 214.99 792.12 215.46 792.21 215.93 792.29 216.41 792.37 216.88 792.45 217.35 792.53 217.82 792.61 218.29 792.69 218.77 792.77 219.24 792.84 219.71 792.92 220.19 792.99 220.66 793.06 221.14 793.13 221.61 793.20 222.09 793.27 222.57 793.34 223.04 793.41 223.52 793.47 224.00 793.54 224.47 793.60 224.95 793.66 225.43 793.73 225.91 793.79 226.39 793.84 226.87 793.90 227.34 793.96 227.82 794.02 228.31 794.07 228.79 794.12 229.27 794.18 229.75 794.23 230.23 794.28 230.71 794.33 231.19 794.38 231.68 794.42 232.16 794.47 232.64 794.51 233.13 794.56 233.61 794.60 234.10 794.64 234.58 794.68 235.07 794.72 235.55 794.76 236.04 794.80 236.53 794.83 237.01 794.87 237.50 794.90 237.81 794.77 238.12 794.64 238.42 794.51 238.72 794.38 239.02 794.24 239.32 794.10 239.62 793.96 239.91 793.81 240.21 793.67 240.50 793.52 240.79 793.37 241.08 793.22 241.37 793.06 241.65 792.91 241.93 792.75 242.22 792.59 242.50 792.43 242.78 792.26 243.05 792.10 243.33 791.93 243.60 791.76 243.88 791.59 244.15 791.41 244.42 791.24 244.69 791.06 244.95 790.88 245.22 790.70 245.48 790.51 245.75 790.33 246.01 790.14 246.27 789.95 246.53 789.76 246.78 789.57 247.04 789.38 247.30 789.18 247.55 788.99 247.80 788.79 248.05 788.59 248.30 788.39 248.55 788.18 248.80 787.98 249.04 787.77 249.29 787.56 249.53 787.35 249.78 787.14 250.02 786.93 250.26 786.72 250.50 786.50 250.73 786.28 250.97 786.07 251.21 785.85 251.44 785.63 251.68 785.40 251.91 785.18 252.14 784.96 252.37 784.73 252.60 784.50 252.83 784.27 253.06 784.04 253.29 783.81 253.51 783.58 253.74 783.35 253.96 783.11 254.19 782.88 254.41 782.64 254.63 782.40 254.85 782.16 255.07 781.92 255.29 781.68 255.51 781.44 255.73 781.20 255.95 780.95 256.16 780.71 256.38 780.46 256.60 780.21 256.81 779.97 257.02 779.72 257.24 779.47 257.45 779.22 257.66 778.97 257.87 778.71 258.08 778.46 258.29 778.21 258.50 777.95 258.71 777.70 258.92 777.44 259.13 777.18 259.34 776.93 259.55 776.67 259.75 776.41 259.96 776.15 260.17 775.89 260.37 775.63 260.58 775.37 260.78 775.11 260.99 774.84 261.19 774.58 261.39 774.32 261.60 774.05 261.80 773.79 262.00 773.52 262.20 773.26 262.41 772.99 262.61 772.73 262.81 772.46 263.01 772.19 263.21 771.92 263.41 771.66 263.61 771.39 263.82 771.12 264.02 770.85 264.22 770.58 264.42 770.31 264.62 770.04 264.81 769.77 265.01 769.50 265.21 769.23 265.41 768.96 265.61 768.68 265.81 768.41 266.01 768.14 266.21 767.87 266.41 767.59 266.60 767.32 266.80 767.05 267.00 766.78 267.20 766.50 267.40 766.23 267.60 765.95 267.79 765.68 267.99 765.41 268.19 765.13 268.39 764.86 268.59 764.58 268.78 764.31 268.98 764.03 269.18 763.76 269.38 763.48 269.58 763.21 269.78 762.93 269.97 762.66 270.17 762.38 270.37 762.11 270.57 761.83 270.77 761.56 270.97 761.28 271.17 761.01 271.36 760.73 271.56 760.46 271.76 760.18 271.96 759.91 272.16 759.63 272.36 759.36 272.56 759.08 272.76 758.81 272.96 758.53 273.16 758.26 273.36 757.99 273.57 757.71 273.77 757.44 273.97 757.16 274.17 756.89 274.37 756.62 274.58 756.34 274.78 756.07 274.98 755.80 275.18 755.53 275.39 755.25 275.59 754.98 275.80 754.71 276.00 754.44 276.21 754.17 276.41 753.90 276.62 753.63 276.82 753.36 277.03 753.09 277.24 752.82 277.44 752.55 277.65 752.28 277.86 752.01 278.07 751.75 278.28 751.48 278.49 751.21 278.70 750.95 278.91 750.68 279.12 750.41 279.33 750.15 279.54 749.88 279.75 749.62 279.97 749.36 280.18 749.09 280.39 748.83 280.61 748.57 280.82 748.31 281.04 748.05 281.26 747.78 281.47 747.52 281.69 747.27 281.91 747.01 282.13 746.75 282.35 746.49 282.57 746.23 282.79 745.98 283.01 745.72 283.23 745.47 283.45 745.21 283.68 744.96 283.90 744.71 284.12 744.45 284.35 744.20 284.57 743.95 284.80 743.70 285.03 743.45 285.25 743.20 285.48 742.95 285.71 742.70 285.94 742.46 286.17 742.21 286.40 741.97 286.63 741.72 286.86 741.48 287.10 741.23 287.33 740.99 287.56 740.75 287.80 740.51 288.03 740.27 288.27 740.03 288.50 739.79 288.74 739.55 288.98 739.31 289.21 739.07 289.45 738.84 289.69 738.60 289.93 738.37 290.17 738.13 290.41 737.90 290.65 737.67 290.90 737.43 291.14 737.20 291.38 736.97 291.63 736.74 291.87 736.51 292.12 736.29 292.36 736.06 292.61 735.83 292.86 735.61 293.10 735.38 293.35 735.16 293.60 734.94 293.85 734.71 294.10 734.49 294.35 734.27 294.60 734.05 294.86 733.83 295.11 733.62 295.36 733.40 295.62 733.18 295.87 732.97 296.13 732.75 296.38 732.54 296.64 732.33 296.90 732.12 297.15 731.90 297.41 731.69 297.67 731.49 297.93 731.28 298.19 731.07 298.45 730.86 298.71 730.66 298.98 730.45 299.24 730.25 299.50 730.05 299.77 729.84 300.03 729.64 300.30 729.44 300.56 729.24 300.83 729.05 301.09 728.85 301.36 728.65 301.63 728.46 301.90 728.26 302.17 728.07 302.44 727.88 302.71 727.69 302.98 727.50 303.25 727.31 303.53 727.12 303.80 726.93 304.07 726.74 304.35 726.56 304.62 726.37 304.90 726.19 305.18 726.01 305.45 725.83 305.73 725.65 306.01 725.47 306.29 725.29 306.57 725.11 306.85 724.93 307.13 724.76 307.41 724.58 307.69 724.41 307.97 724.24 308.26 724.07 308.54 723.90 308.83 723.73 309.11 723.56 309.40 723.40 309.68 723.23 309.97 723.06 310.26 722.90 310.55 722.74 310.83 722.58 311.12 722.42 311.41 722.26 311.70 722.10 312.00 721.94 312.29 721.79 312.58 721.63 312.87 721.48 313.17 721.33 313.46 721.18 313.76 721.03 314.05 720.88 314.35 720.73 314.65 720.58 314.94 720.44 315.24 720.29 315.54 720.15 315.84 720.01 316.14 719.87 316.44 719.73 316.74 719.59 317.04 719.45 317.35 719.32 317.65 719.18 317.95 719.05 318.26 718.92 318.56 718.78 318.87 718.66 319.17 718.53 319.48 718.40 319.79 718.27 320.10 718.15 320.40 718.02 320.71 717.90 321.02 717.78 321.33 717.66 321.65 717.54 321.96 717.42 322.27 717.31 322.58 717.19 322.90 717.08 323.21 716.97 323.53 716.86 323.84 716.75 324.16 716.64 324.47 716.53 324.79 716.42 325.11 716.32 325.43 716.22 325.75 716.11 326.07 716.01 326.39 715.91 326.71 715.82 327.03 715.72 327.35 715.62 327.68 715.53 328.00 715.44 328.33 715.34 328.65 715.25 328.98 715.17 329.30 715.08 329.63 714.99 329.96 714.91 330.28 714.82 330.61 714.74 330.94 714.66 331.27 714.58 331.60 714.51 331.93 714.43 332.27 714.35 332.60 714.28 332.93 714.21 333.26 714.14 333.60 714.07 333.93 714.00 334.27 713.93 334.61 713.87 334.94 713.81 335.28 713.74 335.62 713.68 335.96 713.62 336.29 713.57 336.63 713.51 336.98 713.46 337.32 713.40 337.66 713.35 338.00 713.30 542.30 713.30 542.65 713.62 543.00 713.93 543.35 714.25 543.70 714.57 544.05 714.89 544.41 715.20 544.76 715.52 545.11 715.84 545.46 716.15 545.82 716.47 546.17 716.78 546.52 717.10 546.88 717.41 547.23 717.72 547.59 718.04 547.94 718.35 548.30 718.67 548.65 718.98 549.01 719.29 549.36 719.60 549.72 719.92 550.08 720.23 550.44 720.54 550.79 720.85 551.15 721.16 551.51 721.47 551.87 721.78 552.23 722.09 552.59 722.40 552.94 722.71 553.30 723.02 553.66 723.33 554.03 723.63 554.39 723.94 554.75 724.25 555.11 724.55 555.47 724.86 555.83 725.17 556.20 725.47 556.56 725.78 556.92 726.08 557.28 726.39 557.65 726.69 558.01 727.00 558.38 727.30 558.74 727.60 559.11 727.91 559.47 728.21 559.84 728.51 560.20 728.81 560.57 729.11 560.94 729.41 561.30 729.72 561.67 730.02 562.04 730.32 562.41 730.61 562.78 730.91 563.14 731.21 563.51 731.51 563.88 731.81 564.25 732.10 564.62 732.40 564.99 732.70 565.36 732.99 565.73 733.29 566.11 733.59 566.48 733.88 566.85 734.17 567.22 734.47 567.59 734.76 567.97 735.05 568.34 735.35 568.71 735.64 569.09 735.93 569.46 736.22 569.84 736.51 570.21 736.80 570.59 737.09 570.96 737.38 571.34 737.67 571.72 737.96 572.09 738.25 572.47 738.54 572.85 738.82 573.22 739.11 573.60 739.40 573.98 739.68 574.36 739.97 574.74 740.25 575.12 740.54 575.50 740.82 575.88 741.11 576.26 741.39 576.64 741.67 577.02 741.95 577.40 742.23 577.78 742.52 578.16 742.80 578.55 743.08 578.93 743.36 579.31 743.64 579.70 743.91 580.08 744.19 580.46 744.47 580.85 744.75 581.23 745.02 581.62 745.30 582.00 745.58 582.39 745.85 582.77 746.12 583.16 746.40 583.55 746.67 583.93 746.95 584.32 747.22 584.71 747.49 585.10 747.76 585.49 748.03 585.87 748.30 586.26 748.57 586.65 748.84 587.04 749.11 587.43 749.38 587.82 749.65 588.21 749.91 588.60 750.18 589.00 750.45 589.39 750.71 589.78 750.98 590.17 751.24 590.56 751.50 590.96 751.77 591.35 752.03 591.74 752.29 592.14 752.55 592.53 752.81 592.93 753.07 593.32 753.33 593.72 753.59 594.11 753.85 594.51 754.11 594.91 754.37 595.30 754.62 595.70 754.88 596.10 755.14 596.50 755.39 596.89 755.64 597.29 755.90 597.69 756.15 598.09 756.40 598.49 756.66 598.89 756.91 599.29 757.16 599.69 757.41 600.09 757.66 600.49 757.91 600.89 758.16 601.30 758.40 601.70 758.65 602.10 758.90 602.50 759.14 602.91 759.39 603.31 759.63 603.71 759.88 604.12 760.12 604.52 760.36 604.93 760.61 605.33 760.85 605.74 761.09 606.14 761.33 606.55 761.57 606.96 761.81 607.36 762.04 607.77 762.28 608.18 762.52 608.59 762.76 609.00 762.99 609.40 763.23 609.81 763.46 610.22 763.69 610.63 763.93 611.04 764.16 611.45 764.39 611.86 764.62 612.28 764.85 612.69 765.08 613.10 765.31 613.51 765.54 613.92 765.77 614.34 765.99 614.75 766.22 615.16 766.44 615.58 766.67 615.99 766.89 616.40 767.12 616.82 767.34 617.24 767.56 617.65 767.78 618.07 768.00 618.48 768.22 618.90 768.44 619.32 768.66 619.73 768.88 620.15 769.09 620.57 769.31 620.99 769.52 621.41 769.74 621.83 769.95 622.24 770.17 622.66 770.38 623.08 770.59 623.50 770.80 623.93 771.01 624.35 771.22 624.77 771.43 625.19 771.64 625.61 771.85 626.03 772.05 626.46 772.26 626.88 772.46 627.30 772.67 627.73 772.87 628.15 773.07 628.58 773.28 629.00 773.48 629.43 773.68 629.85 773.88 630.28 774.08 630.70 774.27 631.13 774.47 631.56 774.67 631.99 774.86 632.41 775.06 632.84 775.25 633.27 775.45 633.70 775.64 634.13 775.83 634.56 776.02 634.99 776.21 635.42 776.40 635.85 776.59 636.28 776.78 636.71 776.97 637.14 777.15 637.57 777.34 638.00 777.52 638.44 777.71 638.87 777.89 639.30 778.07 639.74 778.25 640.17 778.43 640.61 778.61 641.04 778.79 641.48 778.97 641.91 779.15 642.35 779.32 642.78 779.50 643.22 779.67 643.66 779.85 644.09 780.02 644.53 780.19 644.97 780.36 645.41 780.53 645.84 780.70 646.28 780.87 646.72 781.04 647.16 781.21 647.60 781.37 648.04 781.54 648.48 781.70 648.92 781.87 649.37 782.03 649.81 782.19 650.25 782.35 650.69 782.51 651.13 782.67 651.58 782.83 652.02 782.99 652.46 783.14 652.91 783.30 653.35 783.46 653.80 783.61 654.24 783.76 654.69 783.91 655.13 784.07 655.58 784.22 656.03 784.37 656.47 784.51 656.92 784.66 657.37 784.81 657.82 784.95 658.27 785.10 658.71 785.24 659.16 785.39 659.61 785.53 660.06 785.67 660.51 785.81 660.96 785.95 661.41 786.09 661.87 786.23 662.32 786.36 662.77 786.50 663.22 786.63 663.67 786.77 664.13 786.90 664.58 787.03 665.03 787.16 665.49 787.29 665.94 787.42 666.40 787.55 666.85 787.68 667.31 787.80 667.76 787.93 668.22 788.05 668.68 788.17 669.13 788.30 669.59 788.42 670.05 788.54 670.51 788.66 670.97 788.78 671.42 788.89 671.88 789.01 672.34 789.13 672.80 789.24 673.26 789.35 673.72 789.47 674.18 789.58 674.65 789.69 675.11 789.80 675.57 789.91 676.03 790.01 676.49 790.12 676.96 790.23 677.42 790.33 677.88 790.43 678.35 790.54 678.81 790.64 679.28 790.74 679.74 790.84 680.21 790.94 680.67 791.03 681.14 791.13 681.61 791.23 682.07 791.32 682.54 791.41 683.01 791.51 683.48 791.60 683.95 791.69 684.41 791.78 684.88 791.87 685.35 791.95 685.82 792.04 686.29 792.12 686.76 792.21 687.23 792.29 687.71 792.37 688.18 792.45 688.65 792.53 689.12 792.61 689.59 792.69 690.07 792.77 690.54 792.84 691.01 792.92 691.49 792.99 691.96 793.06 692.44 793.13 692.91 793.20 693.39 793.27 693.87 793.34 694.34 793.41 694.82 793.47 695.30 793.54 695.77 793.60 696.25 793.66 696.73 793.73 697.21 793.79 697.69 793.84 698.17 793.90 698.64 793.96 699.12 794.02 699.61 794.07 700.09 794.12 700.57 794.18 701.05 794.23 701.53 794.28 702.01 794.33 702.49 794.38 702.98 794.42 703.46 794.47 703.94 794.51 704.43 794.56 704.91 794.60 705.40 794.64 705.88 794.68 706.37 794.72 706.85 794.76 707.34 794.80 707.83 794.83" stroke="#d82828" stroke-width="1.4"/>
<path d="M71.00 713.30 L71.28 713.84 71.56 714.38 71.84 714.92 72.12 715.46 72.40 716.00 72.68 716.54 72.96 717.08 73.24 717.62 73.52 718.16 73.80 718.70 74.08 719.24 74.35 719.78 74.63 720.32 74.91 720.86 75.18 721.40 75.46 721.94 75.74 722.48 76.01 723.02 76.29 723.56 76.56 724.10 76.84 724.64 77.11 725.18 77.39 725.72 77.66 726.26 77.93 726.80 78.21 727.34 78.48 727.87 78.75 728.41 79.03 728.95 79.30 729.49 79.57 730.03 79.84 730.57 80.12 731.11 80.39 731.65 80.66 732.19 80.93 732.73 81.20 733.26 81.47 733.80 81.74 734.34 82.02 734.88 82.29 735.42 82.56 735.96 82.83 736.49 83.10 737.03 83.37 737.57 83.64 738.11 83.91 738.65 84.18 739.18 84.45 739.72 84.72 740.26 84.99 740.80 85.26 741.33 85.53 741.87 85.80 742.41 86.07 742.94 86.34 743.48 86.61 744.02 86.88 744.55 87.15 745.09 87.42 745.63 87.69 746.16 87.96 746.70 88.23 747.23 88.50 747.77 88.77 748.31 89.05 748.84 89.32 749.38 89.59 749.91 89.86 750.45 90.13 750.98 90.40 751.52 90.67 752.05 90.94 752.58 91.21 753.12 91.48 753.65 91.76 754.19 92.03 754.72 92.30 755.25 92.57 755.79 92.84 756.32 93.12 756.85 93.39 757.39 93.66 757.92 93.94 758.45 94.21 758.98 94.48 759.51 94.76 760.05 95.03 760.58 95.30 761.11 95.58 761.64 95.85 762.17 96.13 762.70 96.40 763.23 96.68 763.76 96.96 764.29 97.23 764.82 97.51 765.35 97.79 765.88 98.06 766.41 98.34 766.94 98.62 767.47 98.90 768.00 99.17 768.53 99.45 769.05 99.73 769.58 100.01 770.11 100.29 770.64 100.57 771.16 100.85 771.69 101.13 772.22 101.42 772.75 101.70 773.27 101.98 773.80 102.26 774.32 102.55 774.85 102.83 775.37 103.12 775.90 103.40 776.42 103.69 776.95 103.97 777.47 104.26 778.00 104.54 778.52 104.83 779.04 105.12 779.57 105.41 780.09 105.70 780.61 105.99 781.13 106.27 781.65 106.57 782.18 106.86 782.70 107.15 783.22 107.44 783.74 107.73 784.26 108.03 784.78 108.32 785.30 108.61 785.82 108.91 786.34 109.20 786.86 109.50 787.38 109.80 787.89 110.10 788.41 110.39 788.93 110.69 789.45 110.99 789.96 111.29 790.48 111.59 791.00 111.89 791.51 112.20 792.03 112.50 792.54 112.80 793.06 113.11 793.57 113.41 794.09 113.72 794.60 114.03 795.11 114.33 795.63 114.64 796.14 114.95 796.65 115.26 797.17 115.57 797.68 115.88 798.19 116.19 798.70 116.51 799.21 116.82 799.72 117.13 800.23 117.45 800.74 117.77 801.25 118.08 801.76 118.40 802.27 118.72 802.78 119.04 803.28 119.36 803.79 119.68 804.30 120.00 804.80 120.33 805.31 120.65 805.82 120.97 806.32 121.30 806.83 121.63 807.33 121.95 807.84 122.28 808.34 122.61 808.84 122.94 809.35 123.27 809.85 123.61 810.35 123.94 810.85 124.27 811.35 124.61 811.85 124.95 812.35 125.28 812.85 125.62 813.35 125.96 813.85 126.30 814.35 126.64 814.85 126.98 815.35 127.33 815.84 127.67 816.34 128.02 816.84 128.36 817.33 128.71 817.83 129.06 818.32 129.41 818.82 129.76 819.31 130.11 819.80 130.46 820.30 130.82 820.79 131.17 821.28 131.53 821.77 131.88 822.26 132.24 822.75 132.60 823.24 132.96 823.72 133.32 824.21 133.68 824.70 134.05 825.18 134.41 825.67 134.78 826.15 135.14 826.63 135.51 827.12 135.88 827.60 136.25 828.08 136.62 828.56 136.99 829.04 137.36 829.52 137.74 830.00 138.11 830.47 138.49 830.95 138.87 831.42 139.24 831.90 139.62 832.37 140.00 832.85 140.39 833.32 140.77 833.79 141.15 834.26 141.54 834.73 141.92 835.19 142.31 835.66 142.70 836.13 143.09 836.59 143.48 837.06 143.87 837.52 144.26 837.98 144.66 838.44 145.05 838.90 145.45 839.36 145.84 839.82 146.24 840.28 146.64 840.73 147.04 841.19 147.44 841.64 147.85 842.09 148.25 842.54 148.66 842.99 149.06 843.44 149.47 843.89 149.88 844.33 150.29 844.78 150.70 845.22 151.11 845.67 151.52 846.11 151.94 846.55 152.35 846.99 152.77 847.42 153.19 847.86 153.61 848.30 154.03 848.73 154.45 849.16 154.87 849.59 155.29 850.02 155.72 850.45 156.15 850.88 156.57 851.31 157.00 851.73 157.43 852.15 157.86 852.57 158.29 853.00 158.73 853.41 159.16 853.83 159.60 854.25 160.03 854.66 160.47 855.07 160.91 855.49 161.35 855.90 161.79 856.30 162.24 856.71 162.68 857.12 163.13 857.52 163.57 857.92 164.02 858.32 164.47 858.72 164.92 859.12 165.37 859.52 165.82 859.91 166.28 860.30 166.73 860.70 167.19 861.08 167.65 861.47 168.11 861.86 168.57 862.24 169.03 862.63 169.49 863.01 169.95 863.39 170.42 863.76 170.89 864.14 171.35 864.51 171.82 864.89 172.29 865.26 172.76 865.63 173.24 865.99 173.71 866.36 174.19 866.72 174.66 867.08 175.14 867.44 175.62 867.80 176.10 868.16 176.58 868.51 177.06 868.86 177.55 869.21 178.03 869.56 178.52 869.91 179.01 870.25 179.50 870.60 179.99 870.94 180.48 871.27 180.97 871.61 181.47 871.95 181.97 872.28 182.46 872.61 182.96 872.94 183.46 873.26 183.96 873.59 184.46 873.91 184.97 874.23 185.47 874.55 185.98 874.87 186.49 875.18 187.00 875.49 187.51 875.80 188.02 876.11 188.53 876.42 189.05 876.72 189.56 877.02 190.08 877.32 190.60 877.62 191.12 877.91 191.64 878.20 192.16 878.49 192.69 878.78 193.21 879.06 193.74 879.34 194.27 879.62 194.80 879.89 195.33 880.16 195.87 880.43 196.40 880.69 196.94 880.95 197.48 881.21 198.02 881.46 198.56 881.71 199.10 881.95 199.65 882.19 200.20 882.43 200.74 882.66 201.30 882.89 201.85 883.11 202.40 883.33 202.96 883.54 203.52 883.75 204.08 883.95 204.64 884.15 205.20 884.35 205.77 884.53 206.34 884.72 206.91 884.90 207.48 885.07 208.05 885.23 208.63 885.40 209.21 885.55 209.79 885.70 210.37 885.84 210.96 885.98 211.54 886.11 212.13 886.24 212.72 886.36 213.32 886.47 213.91 886.57 214.51 886.67 215.11 886.76 215.71 886.85 216.32 886.93 216.92 887.00 217.53 887.06 218.15 887.12 218.76 887.17 219.38 887.21 220.00 887.24 220.62 887.27 221.24 887.29 221.87 887.30 222.50 887.30 223.05 886.62 223.59 885.94 224.12 885.24 224.64 884.54 225.15 883.82 225.65 883.10 226.13 882.37 226.61 881.64 227.08 880.89 227.54 880.14 227.99 879.38 228.44 878.62 228.87 877.84 229.29 877.06 229.71 876.28 230.12 875.48 230.52 874.69 230.92 873.88 231.30 873.07 231.68 872.25 232.05 871.43 232.42 870.60 232.78 869.77 233.13 868.94 233.48 868.09 233.82 867.25 234.15 866.40 234.48 865.54 234.81 864.68 235.12 863.82 235.44 862.95 235.75 862.08 236.05 861.21 236.35 860.33 236.65 859.45 236.94 858.57 237.23 857.68 237.51 856.79 237.79 855.90 238.07 855.01 238.35 854.12 238.62 853.22 238.89 852.32 239.16 851.42 239.42 850.52 239.69 849.62 239.95 848.72 240.21 847.81 240.47 846.91 240.72 846.01 240.98 845.10 241.24 844.20 241.49 843.29 241.75 842.39 242.00 841.49 242.26 840.58 242.51 839.68 242.77 838.78 243.02 837.88 243.28 836.98 243.53 836.08 243.79 835.18 244.05 834.28 244.30 833.38 244.56 832.48 244.81 831.58 245.07 830.68 245.33 829.79 245.59 828.89 245.84 827.99 246.10 827.10 246.36 826.20 246.62 825.31 246.88 824.42 247.15 823.52 247.41 822.63 247.67 821.74 247.94 820.85 248.20 819.96 248.47 819.07 248.74 818.18 249.00 817.29 249.27 816.40 249.54 815.52 249.82 814.63 250.09 813.75 250.36 812.86 250.64 811.98 250.92 811.09 251.20 810.21 251.48 809.33 251.76 808.45 252.04 807.57 252.33 806.69 252.62 805.81 252.91 804.93 253.20 804.05 253.49 803.18 253.78 802.30 254.08 801.43 254.38 800.55 254.68 799.68 254.98 798.81 255.29 797.93 255.59 797.06 255.90 796.19 256.21 795.32 256.53 794.46 256.84 793.59 257.16 792.72 257.48 791.86 257.81 790.99 258.13 790.13 258.46 789.27 258.79 788.41 259.12 787.54 259.46 786.68 259.80 785.83 260.14 784.97 260.48 784.11 260.83 783.25 261.18 782.40 261.53 781.54 261.88 780.69 262.24 779.83 262.59 778.98 262.95 778.13 263.31 777.28 263.68 776.43 264.05 775.58 264.41 774.73 264.78 773.88 265.16 773.04 265.53 772.19 265.91 771.34 266.29 770.50 266.67 769.65 267.05 768.81 267.44 767.97 267.83 767.13 268.22 766.28 268.61 765.44 269.00 764.60 269.40 763.76 269.80 762.92 270.20 762.09 270.60 761.25 271.00 760.41 271.41 759.57 271.81 758.74 272.22 757.90 272.63 757.07 273.04 756.23 273.46 755.40 273.87 754.57 274.29 753.73 274.71 752.90 275.13 752.07 275.55 751.24 275.98 750.41 276.40 749.58 276.83 748.75 277.26 747.92 277.69 747.09 278.12 746.26 278.56 745.43 278.99 744.60 279.43 743.78 279.87 742.95 280.31 742.13 280.75 741.30 281.20 740.48 281.65 739.66 282.10 738.84 282.55 738.03 283.01 737.22 283.47 736.41 283.93 735.60 284.40 734.80 284.87 734.00 285.34 733.20 285.82 732.41 286.30 731.62 286.78 730.83 287.27 730.05 287.77 729.27 288.27 728.50 288.77 727.74 289.28 726.98 289.79 726.22 290.31 725.47 290.83 724.73 291.36 723.99 291.90 723.26 292.44 722.54 292.98 721.82 293.53 721.11 294.09 720.41 294.66 719.71 295.23 719.02 295.81 718.34 296.39 717.67 296.98 717.01 297.58 716.35 298.18 715.71 298.80 715.07 299.42 714.44 300.04 713.82 300.68 713.21 301.32 712.61 301.98 712.02 302.64 711.44 303.30 710.88 303.98 710.32 304.66 709.77 305.35 709.23 306.05 708.70 306.76 708.18 307.48 707.67 308.20 707.17 308.93 706.69 309.67 706.21 310.41 705.74 311.17 705.28 311.93 704.83 312.69 704.39 313.47 703.96 314.25 703.53 315.04 703.12 315.83 702.72 316.64 702.33 317.45 701.94 318.26 701.57 319.08 701.20 319.91 700.84 320.75 700.49 321.59 700.15 322.43 699.81 323.28 699.49 324.14 699.16 325.00 698.85 325.86 698.54 326.73 698.24 327.60 697.94 328.48 697.65 329.36 697.36 330.24 697.08 331.13 696.80 332.02 696.53 332.91 696.26 333.81 696.00 334.71 695.74 335.61 695.48 336.51 695.23 337.42 694.98 338.33 694.74 339.24 694.49 340.15 694.25 341.07 694.02 341.98 693.79 342.90 693.56 343.82 693.33 344.74 693.11 345.66 692.89 346.58 692.67 347.50 692.45 348.43 692.24 349.35 692.02 350.28 691.81 351.20 691.60 352.13 691.40 353.05 691.19 353.98 690.99 354.90 690.78 355.83 690.58 356.75 690.38 357.68 690.18 358.60 689.98 359.53 689.78 360.45 689.59 361.37 689.40 362.29 689.20 363.22 689.02 364.14 688.83 365.06 688.65 365.98 688.47 366.90 688.30 367.82 688.13 368.74 687.96 369.66 687.80 370.58 687.65 371.50 687.50 372.42 687.35 373.34 687.21 374.26 687.08 375.18 686.95 376.10 686.83 377.02 686.72 377.94 686.61 378.86 686.51 379.78 686.42 380.70 686.33 381.62 686.26 382.54 686.19 383.46 686.13 384.38 686.07 385.30 686.03 386.22 685.99 387.14 685.96 388.06 685.94 388.98 685.93 389.90 685.92 390.82 685.92 391.73 685.93 392.65 685.95 393.57 685.98 394.48 686.01 395.40 686.05 396.32 686.10 397.23 686.16 398.14 686.22 399.06 686.29 399.97 686.37 400.88 686.46 401.79 686.55 402.70 686.65 403.61 686.76 404.52 686.88 405.42 687.00 406.33 687.13 407.23 687.27 408.14 687.42 409.04 687.57 409.94 687.73 410.84 687.90 411.74 688.08 412.63 688.26 413.53 688.45 414.42 688.65 415.31 688.86 416.20 689.07 417.09 689.29 417.98 689.52 418.87 689.75 419.75 689.99 420.63 690.24 421.51 690.50 422.39 690.76 423.27 691.03 424.14 691.31 425.02 691.59 425.89 691.89 426.75 692.19 427.62 692.49 428.49 692.80 429.35 693.12 430.21 693.45 431.07 693.79 431.92 694.13 432.77 694.47 433.62 694.83 434.47 695.19 435.32 695.56 436.16 695.94 437.00 696.32 437.84 696.71 438.68 697.11 439.51 697.51 440.34 697.92 441.17 698.34 441.99 698.76 442.81 699.19 443.63 699.63 444.45 700.07 445.26 700.52 446.07 700.98 446.87 701.44 447.68 701.91 448.48 702.39 449.27 702.87 450.07 703.36 450.86 703.86 451.65 704.36 452.43 704.87 453.21 705.39 453.99 705.91 454.76 706.44 455.53 706.98 456.30 707.52 457.06 708.07 457.82 708.63 458.57 709.19 459.32 709.76 460.07 710.33 460.81 710.91 461.55 711.50 462.29 712.09 463.02 712.69 463.75 713.30 463.75 713.30 464.03 713.84 464.31 714.38 464.59 714.92 464.87 715.46 465.15 716.00 465.43 716.54 465.71 717.08 465.99 717.62 466.27 718.16 466.55 718.70 466.83 719.24 467.10 719.78 467.38 720.32 467.66 720.86 467.93 721.40 468.21 721.94 468.49 722.48 468.76 723.02 469.04 723.56 469.31 724.10 469.59 724.64 469.86 725.18 470.14 725.72 470.41 726.26 470.68 726.80 470.96 727.34 471.23 727.87 471.50 728.41 471.78 728.95 472.05 729.49 472.32 730.03 472.59 730.57 472.87 731.11 473.14 731.65 473.41 732.19 473.68 732.73 473.95 733.26 474.22 733.80 474.49 734.34 474.77 734.88 475.04 735.42 475.31 735.96 475.58 736.49 475.85 737.03 476.12 737.57 476.39 738.11 476.66 738.65 476.93 739.18 477.20 739.72 477.47 740.26 477.74 740.80 478.01 741.33 478.28 741.87 478.55 742.41 478.82 742.94 479.09 743.48 479.36 744.02 479.63 744.55 479.90 745.09 480.17 745.63 480.44 746.16 480.71 746.70 480.98 747.23 481.25 747.77 481.52 748.31 481.80 748.84 482.07 749.38 482.34 749.91 482.61 750.45 482.88 750.98 483.15 751.52 483.42 752.05 483.69 752.58 483.96 753.12 484.23 753.65 484.51 754.19 484.78 754.72 485.05 755.25 485.32 755.79 485.59 756.32 485.87 756.85 486.14 757.39 486.41 757.92 486.69 758.45 486.96 758.98 487.23 759.51 487.51 760.05 487.78 760.58 488.05 761.11 488.33 761.64 488.60 762.17 488.88 762.70 489.15 763.23 489.43 763.76 489.71 764.29 489.98 764.82 490.26 765.35 490.54 765.88 490.81 766.41 491.09 766.94 491.37 767.47 491.65 768.00 491.92 768.53 492.20 769.05 492.48 769.58 492.76 770.11 493.04 770.64 493.32 771.16 493.60 771.69 493.88 772.22 494.17 772.75 494.45 773.27 494.73 773.80 495.01 774.32 495.30 774.85 495.58 775.37 495.87 775.90 496.15 776.42 496.44 776.95 496.72 777.47 497.01 778.00 497.29 778.52 497.58 779.04 497.87 779.57 498.16 780.09 498.45 780.61 498.74 781.13 499.02 781.65 499.32 782.18 499.61 782.70 499.90 783.22 500.19 783.74 500.48 784.26 500.78 784.78 501.07 785.30 501.36 785.82 501.66 786.34 501.95 786.86 502.25 787.38 502.55 787.89 502.85 788.41 503.14 788.93 503.44 789.45 503.74 789.96 504.04 790.48 504.34 791.00 504.64 791.51 504.95 792.03 505.25 792.54 505.55 793.06 505.86 793.57 506.16 794.09 506.47 794.60 506.78 795.11 507.08 795.63 507.39 796.14 507.70 796.65 508.01 797.17 508.32 797.68 508.63 798.19 508.94 798.70 509.26 799.21 509.57 799.72 509.88 800.23 510.20 800.74 510.52 801.25 510.83 801.76 511.15 802.27 511.47 802.78 511.79 803.28 512.11 803.79 512.43 804.30 512.75 804.80 513.08 805.31 513.40 805.82 513.72 806.32 514.05 806.83 514.38 807.33 514.70 807.84 515.03 808.34 515.36 808.84 515.69 809.35 516.02 809.85 516.36 810.35 516.69 810.85 517.02 811.35 517.36 811.85 517.70 812.35 518.03 812.85 518.37 813.35 518.71 813.85 519.05 814.35 519.39 814.85 519.73 815.35 520.08 815.84 520.42 816.34 520.77 816.84 521.11 817.33 521.46 817.83 521.81 818.32 522.16 818.82 522.51 819.31 522.86 819.80 523.21 820.30 523.57 820.79 523.92 821.28 524.28 821.77 524.63 822.26 524.99 822.75 525.35 823.24 525.71 823.72 526.07 824.21 526.43 824.70 526.80 825.18 527.16 825.67 527.53 826.15 527.89 826.63 528.26 827.12 528.63 827.60 529.00 828.08 529.37 828.56 529.74 829.04 530.11 829.52 530.49 830.00 530.86 830.47 531.24 830.95 531.62 831.42 531.99 831.90 532.37 832.37 532.75 832.85 533.14 833.32 533.52 833.79 533.90 834.26 534.29 834.73 534.67 835.19 535.06 835.66 535.45 836.13 535.84 836.59 536.23 837.06 536.62 837.52 537.01 837.98 537.41 838.44 537.80 838.90 538.20 839.36 538.59 839.82 538.99 840.28 539.39 840.73 539.79 841.19 540.19 841.64 540.60 842.09 541.00 842.54 541.41 842.99 541.81 843.44 542.22 843.89 542.63 844.33 543.04 844.78 543.45 845.22 543.86 845.67 544.27 846.11 544.69 846.55 545.10 846.99 545.52 847.42 545.94 847.86 546.36 848.30 546.78 848.73 547.20 849.16 547.62 849.59 548.04 850.02 548.47 850.45 548.90 850.88 549.32 851.31 549.75 851.73 550.18 852.15 550.61 852.57 551.04 853.00 551.48 853.41 551.91 853.83 552.35 854.25 552.78 854.66 553.22 855.07 553.66 855.49 554.10 855.90 554.54 856.30 554.99 856.71 555.43 857.12 555.88 857.52 556.32 857.92 556.77 858.32 557.22 858.72 557.67 859.12 558.12 859.52 558.57 859.91 559.03 860.30 559.48 860.70 559.94 861.08 560.40 861.47 560.86 861.86 561.32 862.24 561.78 862.63 562.24 863.01 562.70 863.39 563.17 863.76 563.64 864.14 564.10 864.51 564.57 864.89 565.04 865.26 565.51 865.63 565.99 865.99 566.46 866.36 566.94 866.72 567.41 867.08 567.89 867.44 568.37 867.80 568.85 868.16 569.33 868.51 569.81 868.86 570.30 869.21 570.78 869.56 571.27 869.91 571.76 870.25 572.25 870.60 572.74 870.94 573.23 871.27 573.72 871.61 574.22 871.95 574.72 872.28 575.21 872.61 575.71 872.94 576.21 873.26 576.71 873.59 577.21 873.91 577.72 874.23 578.22 874.55 578.73 874.87 579.24 875.18 579.75 875.49 580.26 875.80 580.77 876.11 581.28 876.42 581.80 876.72 582.31 877.02 582.83 877.32 583.35 877.62 583.87 877.91 584.39 878.20 584.91 878.49 585.44 878.78 585.96 879.06 586.49 879.34 587.02 879.62 587.55 879.89 588.08 880.16 588.62 880.43 589.15 880.69 589.69 880.95 590.23 881.21 590.77 881.46 591.31 881.71 591.85 881.95 592.40 882.19 592.95 882.43 593.49 882.66 594.05 882.89 594.60 883.11 595.15 883.33 595.71 883.54 596.27 883.75 596.83 883.95 597.39 884.15 597.95 884.35 598.52 884.53 599.09 884.72 599.66 884.90 600.23 885.07 600.80 885.23 601.38 885.40 601.96 885.55 602.54 885.70 603.12 885.84 603.71 885.98 604.29 886.11 604.88 886.24 605.47 886.36 606.07 886.47 606.66 886.57 607.26 886.67 607.86 886.76 608.46 886.85 609.07 886.93 609.67 887.00 610.28 887.06 610.90 887.12 611.51 887.17 612.13 887.21 612.75 887.24 613.37 887.27 613.99 887.29 614.62 887.30 615.25 887.30 615.80 886.62 616.34 885.94 616.87 885.24 617.39 884.54 617.90 883.82 618.40 883.10 618.88 882.37 619.36 881.64 619.83 880.89 620.29 880.14 620.74 879.38 621.19 878.62 621.62 877.84 622.04 877.06 622.46 876.28 622.87 875.48 623.27 874.69 623.67 873.88 624.05 873.07 624.43 872.25 624.80 871.43 625.17 870.60 625.53 869.77 625.88 868.94 626.23 868.09 626.57 867.25 626.90 866.40 627.23 865.54 627.56 864.68 627.87 863.82 628.19 862.95 628.50 862.08 628.80 861.21 629.10 860.33 629.40 859.45 629.69 858.57 629.98 857.68 630.26 856.79 630.54 855.90 630.82 855.01 631.10 854.12 631.37 853.22 631.64 852.32 631.91 851.42 632.17 850.52 632.44 849.62 632.70 848.72 632.96 847.81 633.22 846.91 633.47 846.01 633.73 845.10 633.99 844.20 634.24 843.29 634.50 842.39 634.75 841.49 635.01 840.58 635.26 839.68 635.52 838.78 635.77 837.88 636.03 836.98 636.28 836.08 636.54 835.18 636.80 834.28 637.05 833.38 637.31 832.48 637.56 831.58 637.82 830.68 638.08 829.79 638.34 828.89 638.59 827.99 638.85 827.10 639.11 826.20 639.37 825.31 639.63 824.42 639.90 823.52 640.16 822.63 640.42 821.74 640.69 820.85 640.95 819.96 641.22 819.07 641.49 818.18 641.75 817.29 642.02 816.40 642.29 815.52 642.57 814.63 642.84 813.75 643.11 812.86 643.39 811.98 643.67 811.09 643.95 810.21 644.23 809.33 644.51 808.45 644.79 807.57 645.08 806.69 645.37 805.81 645.66 804.93 645.95 804.05 646.24 803.18 646.53 802.30 646.83 801.43 647.13 800.55 647.43 799.68 647.73 798.81 648.04 797.93 648.34 797.06 648.65 796.19 648.96 795.32 649.28 794.46 649.59 793.59 649.91 792.72 650.23 791.86 650.56 790.99 650.88 790.13 651.21 789.27 651.54 788.41 651.87 787.54 652.21 786.68 652.55 785.83 652.89 784.97 653.23 784.11 653.58 783.25 653.93 782.40 654.28 781.54 654.63 780.69 654.99 779.83 655.34 778.98 655.70 778.13 656.06 777.28 656.43 776.43 656.80 775.58 657.16 774.73 657.53 773.88 657.91 773.04 658.28 772.19 658.66 771.34 659.04 770.50 659.42 769.65 659.80 768.81 660.19 767.97 660.58 767.13 660.97 766.28 661.36 765.44 661.75 764.60 662.15 763.76 662.55 762.92 662.95 762.09 663.35 761.25 663.75 760.41 664.16 759.57 664.56 758.74 664.97 757.90 665.38 757.07 665.79 756.23 666.21 755.40 666.62 754.57 667.04 753.73 667.46 752.90 667.88 752.07 668.30 751.24 668.73 750.41 669.15 749.58 669.58 748.75 670.01 747.92 670.44 747.09 670.87 746.26 671.31 745.43 671.74 744.60 672.18 743.78 672.62 742.95 673.06 742.13 673.50 741.30 673.95 740.48 674.40 739.66 674.85 738.84 675.30 738.03 675.76 737.22 676.22 736.41 676.68 735.60 677.15 734.80 677.62 734.00 678.09 733.20 678.57 732.41 679.05 731.62 679.53 730.83 680.02 730.05 680.52 729.27 681.02 728.50 681.52 727.74 682.03 726.98 682.54 726.22 683.06 725.47 683.58 724.73 684.11 723.99 684.65 723.26 685.19 722.54 685.73 721.82 686.28 721.11 686.84 720.41 687.41 719.71 687.98 719.02 688.56 718.34 689.14 717.67 689.73 717.01 690.33 716.35 690.93 715.71 691.55 715.07 692.17 714.44 692.79 713.82 693.43 713.21 694.07 712.61 694.73 712.02 695.39 711.44 696.05 710.88 696.73 710.32 697.41 709.77 698.10 709.23 698.80 708.70 699.51 708.18 700.23 707.67 700.95 707.17 701.68 706.69 702.42 706.21 703.16 705.74 703.92 705.28 704.68 704.83 705.44 704.39 706.22 703.96 707.00 703.53 707.79 703.12" stroke="#f97a35" stroke-width="3.8"/>
<path d="M71.00 713.30 L71.16 714.19 71.32 715.08 71.48 715.97 71.64 716.86 71.80 717.75 71.96 718.63 72.12 719.52 72.28 720.41 72.44 721.30 72.60 722.18 72.76 723.07 72.92 723.96 73.09 724.84 73.25 725.73 73.41 726.61 73.58 727.50 73.74 728.38 73.91 729.26 74.07 730.15 74.24 731.03 74.40 731.91 74.57 732.80 74.73 733.68 74.90 734.56 75.07 735.44 75.23 736.32 75.40 737.20 75.57 738.08 75.74 738.96 75.91 739.84 76.08 740.72 76.25 741.60 76.42 742.48 76.59 743.36 76.76 744.24 76.93 745.12 77.10 746.00 77.27 746.87 77.44 747.75 77.61 748.63 77.79 749.50 77.96 750.38 78.13 751.26 78.31 752.13 78.48 753.01 78.66 753.88 78.83 754.76 79.01 755.63 79.18 756.50 79.36 757.38 79.54 758.25 79.71 759.13 79.89 760.00 80.07 760.87 80.25 761.74 80.42 762.62 80.60 763.49 80.78 764.36 80.96 765.23 81.14 766.10 81.32 766.98 81.50 767.85 81.68 768.72 81.87 769.59 82.05 770.46 82.23 771.33 82.41 772.20 82.60 773.07 82.78 773.94 82.96 774.80 83.15 775.67 83.33 776.54 83.52 777.41 83.70 778.28 83.89 779.15 84.07 780.01 84.26 780.88 84.45 781.75 84.63 782.62 84.82 783.48 85.01 784.35 85.20 785.22 85.38 786.08 85.57 786.95 85.76 787.82 85.95 788.68 86.14 789.55 86.33 790.41 86.52 791.28 86.72 792.14 86.91 793.01 87.10 793.87 87.29 794.74 87.48 795.60 87.68 796.46 87.87 797.33 88.07 798.19 88.26 799.06 88.45 799.92 88.65 800.78 88.85 801.65 89.04 802.51 89.24 803.37 89.43 804.24 89.63 805.10 89.83 805.96 90.03 806.82 90.23 807.69 90.42 808.55 90.62 809.41 90.82 810.27 91.02 811.13 91.22 812.00 91.42 812.86 91.62 813.72 91.82 814.58 92.03 815.44 92.23 816.30 92.43 817.16 92.63 818.02 92.84 818.88 93.04 819.74 93.25 820.61 93.45 821.47 93.65 822.33 93.86 823.19 94.07 824.05 94.27 824.91 94.48 825.77 94.68 826.63 94.89 827.49 95.10 828.35 95.31 829.21 95.52 830.07 95.72 830.93 95.93 831.79 96.14 832.64 96.35 833.50 96.56 834.36 96.77 835.22 96.99 836.08 97.20 836.94 97.41 837.80 97.62 838.66 97.83 839.52 98.05 840.38 98.26 841.24 98.48 842.10 98.69 842.95 98.90 843.81 99.12 844.67 99.34 845.53 99.55 846.39 99.77 847.25 99.98 848.11 100.20 848.97 100.42 849.82 100.64 850.68 100.86 851.54 101.07 852.40 101.29 853.26 101.51 854.12 101.73 854.98 101.95 855.84 102.17 856.69 102.39 857.55 102.62 858.41 102.84 859.27 103.06 860.13 103.28 860.99 103.51 861.85 103.73 862.70 103.95 863.56 104.18 864.42 104.40 865.28 104.63 866.14 104.85 867.00 105.08 867.86 105.31 868.72 105.53 869.58 105.76 870.43 105.99 871.29 106.22 872.15 106.44 873.01 106.67 873.87 106.90 874.73 107.13 875.59 107.36 876.45 107.59 877.31 107.82 878.17 108.06 879.03 108.29 879.89 108.52 880.75 108.75 881.61 108.98 882.47 109.22 883.33 109.45 884.19 109.69 885.05 109.92 885.91 110.16 886.77 110.39 887.63 110.63 888.49 110.86 889.35 111.10 890.21 111.34 891.07 111.57 891.93 111.81 892.79 112.05 893.65 112.29 894.52 112.53 895.38 112.77 896.24 113.01 897.10 113.25 897.96 113.49 898.82 113.73 899.68 113.97 900.55 114.21 901.41 114.46 902.27 114.70 903.13 114.94 904.00 115.19 904.86 115.43 905.72 115.68 906.58 115.92 907.45 116.17 908.31 116.41 909.17 116.66 910.04 116.90 910.90 117.15 911.77 117.40 912.63 117.65 913.49 117.90 914.36 118.14 915.22 118.39 916.09 118.64 916.95 118.89 917.82 119.14 918.68 119.39 919.55 119.65 920.41 119.90 921.28 120.15 922.15 120.40 923.01 120.66 923.88 120.91 924.74 121.16 925.61 121.42 926.48 121.67 927.35 121.93 928.21 122.18 929.08 122.44 929.95 122.70 930.82 122.95 931.68 123.21 932.55 123.47 933.42 123.73 934.28 123.99 935.15 124.25 936.02 124.51 936.89 124.78 937.75 125.04 938.62 125.31 939.48 125.57 940.35 125.84 941.22 126.11 942.08 126.38 942.95 126.65 943.81 126.92 944.67 127.19 945.54 127.47 946.40 127.74 947.26 128.02 948.12 128.30 948.98 128.58 949.84 128.86 950.70 129.14 951.56 129.42 952.42 129.71 953.28 130.00 954.13 130.28 954.99 130.58 955.84 130.87 956.70 131.16 957.55 131.46 958.40 131.76 959.25 132.05 960.10 132.36 960.95 132.66 961.80 132.96 962.64 133.27 963.49 133.58 964.33 133.89 965.18 134.21 966.02 134.52 966.86 134.84 967.70 135.16 968.53 135.48 969.37 135.81 970.20 136.13 971.04 136.46 971.87 136.79 972.70 137.13 973.53 137.47 974.35 137.80 975.18 138.15 976.00 138.49 976.82 138.84 977.65 139.19 978.46 139.54 979.28 139.89 980.09 140.25 980.91 140.61 981.72 140.98 982.53 141.34 983.34 141.71 984.14 142.09 984.94 142.46 985.74 142.84 986.54 143.22 987.34 143.60 988.14 143.99 988.93 144.38 989.72 144.78 990.51 145.17 991.29 145.58 992.08 145.98 992.86 146.39 993.64 146.80 994.41 147.21 995.19 147.63 995.96 148.05 996.73 148.48 997.49 148.90 998.26 149.34 999.02 149.77 999.78 150.21 1000.53 150.65 1001.29 151.10 1002.04 151.55 1002.79 152.01 1003.53 152.46 1004.27 152.93 1005.01 153.39 1005.75 153.86 1006.48 154.34 1007.21 154.82 1007.94 155.30 1008.66 155.79 1009.38 156.28 1010.09 156.78 1010.80 157.28 1011.51 157.79 1012.21 158.30 1012.91 158.82 1013.61 159.34 1014.30 159.87 1014.98 160.40 1015.67 160.94 1016.34 161.49 1017.01 162.03 1017.68 162.59 1018.34 163.15 1019.00 163.72 1019.65 164.29 1020.30 164.86 1020.94 165.45 1021.58 166.04 1022.21 166.63 1022.84 167.24 1023.46 167.84 1024.07 168.46 1024.68 169.08 1025.28 169.71 1025.88 170.34 1026.47 170.98 1027.05 171.63 1027.63 172.28 1028.20 172.94 1028.76 173.61 1029.32 174.29 1029.87 174.97 1030.41 175.66 1030.95 176.36 1031.48 177.06 1032.00 177.77 1032.52 178.49 1033.02 179.22 1033.52 179.95 1034.02 180.69 1034.50 181.45 1034.98 182.20 1035.45 182.97 1035.91 183.74 1036.36 184.53 1036.81 185.32 1037.25 186.12 1037.68 186.92 1038.10 187.74 1038.51 188.56 1038.91 189.40 1039.30 190.00 1037.87 190.57 1036.44 191.13 1035.00 191.67 1033.55 192.19 1032.10 192.69 1030.64 193.18 1029.17 193.65 1027.70 194.11 1026.23 194.55 1024.75 194.98 1023.26 195.39 1021.77 195.79 1020.27 196.17 1018.77 196.55 1017.27 196.91 1015.76 197.26 1014.25 197.59 1012.73 197.92 1011.21 198.23 1009.68 198.54 1008.15 198.83 1006.62 199.12 1005.09 199.40 1003.55 199.67 1002.01 199.93 1000.46 200.19 998.91 200.43 997.36 200.67 995.81 200.91 994.25 201.14 992.70 201.37 991.14 201.59 989.58 201.80 988.01 202.02 986.45 202.23 984.88 202.44 983.31 202.64 981.74 202.84 980.17 203.05 978.60 203.25 977.03 203.45 975.45 203.65 973.88 203.85 972.30 204.06 970.73 204.26 969.15 204.47 967.58 204.68 966.00 204.88 964.43 205.10 962.85 205.31 961.28 205.52 959.70 205.73 958.12 205.95 956.55 206.17 954.97 206.38 953.40 206.60 951.82 206.82 950.24 207.05 948.67 207.27 947.09 207.49 945.51 207.72 943.94 207.95 942.36 208.17 940.78 208.40 939.21 208.63 937.63 208.86 936.05 209.10 934.48 209.33 932.90 209.57 931.33 209.80 929.75 210.04 928.17 210.28 926.60 210.52 925.02 210.76 923.45 211.00 921.87 211.24 920.30 211.48 918.72 211.73 917.15 211.97 915.58 212.22 914.00 212.47 912.43 212.72 910.86 212.96 909.28 213.21 907.71 213.47 906.14 213.72 904.57 213.97 903.00 214.22 901.42 214.48 899.85 214.73 898.28 214.99 896.71 215.25 895.14 215.51 893.58 215.76 892.01 216.02 890.44 216.28 888.87 216.55 887.31 216.81 885.74 217.07 884.17 217.33 882.61 217.60 881.04 217.86 879.48 218.13 877.92 218.39 876.35 218.66 874.79 218.93 873.23 219.20 871.67 219.47 870.11 219.74 868.55 220.01 866.99 220.28 865.43 220.55 863.87 220.82 862.32 221.09 860.76 221.37 859.20 221.64 857.65 221.92 856.09 222.19 854.54 222.47 852.98 222.75 851.43 223.02 849.88 223.30 848.32 223.58 846.77 223.86 845.22 224.14 843.67 224.43 842.12 224.71 840.57 224.99 839.02 225.28 837.47 225.56 835.92 225.84 834.37 226.13 832.82 226.42 831.27 226.71 829.72 226.99 828.18 227.28 826.63 227.57 825.08 227.86 823.54 228.15 821.99 228.45 820.44 228.74 818.90 229.03 817.35 229.33 815.81 229.62 814.26 229.92 812.72 230.22 811.18 230.51 809.63 230.81 808.09 231.11 806.54 231.41 805.00 231.71 803.46 232.01 801.91 232.32 800.37 232.62 798.83 232.92 797.29 233.23 795.75 233.53 794.20 233.84 792.66 234.15 791.12 234.46 789.58 234.77 788.04 235.08 786.49 235.39 784.95 235.70 783.41 236.01 781.87 236.32 780.33 236.64 778.79 236.95 777.25 237.27 775.71 237.58 774.17 237.90 772.62 238.22 771.08 238.54 769.54 238.86 768.00 239.18 766.46 239.50 764.92 239.82 763.38 240.15 761.84 240.47 760.29 240.80 758.75 241.12 757.21 241.45 755.67 241.78 754.13 242.11 752.59 242.44 751.04 242.77 749.50 243.10 747.96 243.43 746.42 243.77 744.88 244.10 743.33 244.44 741.79 244.77 740.25 245.11 738.70 245.45 737.16 245.79 735.62 246.13 734.07 246.47 732.53 246.81 730.98 247.15 729.44 247.50 727.89 247.84 726.35 248.19 724.80 248.53 723.26 248.88 721.71 249.23 720.16 249.58 718.62 249.93 717.07 250.28 715.52 250.63 713.97 250.99 712.43 251.34 710.88 251.70 709.33 252.05 707.78 252.41 706.23 252.77 704.68 253.13 703.13 253.49 701.58 253.85 700.03 254.21 698.47 254.57 696.92 254.94 695.37 255.30 693.82 255.67 692.26 256.04 690.71 256.40 689.15 256.77 687.60 257.14 686.04 257.52 684.48 257.89 682.93 258.26 681.37 258.64 679.81 259.01 678.25 259.39 676.69 259.77 675.13 260.14 673.57 260.52 672.01 260.90 670.45 261.29 668.89 261.67 667.32 262.05 665.76 262.44 664.20 262.82 662.63 263.21 661.07 263.60 659.50 263.99 657.93 264.38 656.36 264.77 654.80 265.16 653.23 265.56 651.66 265.95 650.09 266.35 648.51 266.75 646.94 267.15 645.37 267.55 643.80 267.96 642.23 268.37 640.67 268.79 639.10 269.21 637.54 269.64 635.98 270.07 634.43 270.52 632.88 270.97 631.33 271.42 629.79 271.89 628.26 272.36 626.73 272.85 625.20 273.34 623.69 273.85 622.18 274.37 620.67 274.90 619.18 275.44 617.69 275.99 616.22 276.56 614.75 277.14 613.29 277.74 611.84 278.35 610.41 278.98 608.98 279.62 607.57 280.28 606.16 280.96 604.77 281.66 603.40 282.37 602.03 283.10 600.68 283.86 599.35 284.63 598.02 285.42 596.72 286.24 595.43 287.07 594.15 287.93 592.89 288.81 591.65 289.72 590.43 290.64 589.22 291.60 588.03 292.57 586.86 293.58 585.71 294.60 584.58 295.66 583.47 296.74 582.38 297.84 581.33 298.96 580.34 300.09 579.44 301.23 578.65 302.37 577.98 303.50 577.47 304.62 577.13 305.73 576.98 306.81 577.04 307.87 577.32 308.89 577.80 309.88 578.47 310.84 579.30 311.75 580.29 312.61 581.42 313.43 582.68 314.19 584.04 314.89 585.50 315.55 587.04 316.17 588.64 316.76 590.29 317.33 591.97 317.88 593.66 318.42 595.35 318.95 597.03 319.48 598.70 320.00 600.37 320.52 602.02 321.03 603.67 321.54 605.31 322.04 606.94 322.54 608.57 323.03 610.18 323.51 611.79 324.00 613.40 324.47 614.99 324.94 616.58 325.41 618.17 325.87 619.75 326.33 621.32 326.78 622.88 327.23 624.45 327.67 626.00 328.11 627.55 328.55 629.10 328.98 630.64 329.41 632.18 329.83 633.71 330.25 635.24 330.67 636.77 331.08 638.29 331.49 639.81 331.90 641.33 332.30 642.84 332.70 644.36 333.09 645.86 333.48 647.37 333.87 648.88 334.26 650.38 334.64 651.88 335.02 653.38 335.40 654.88 335.77 656.38 336.15 657.88 336.52 659.38 336.88 660.88 337.25 662.38 337.61 663.88 337.97 665.38 338.33 666.88 338.68 668.38 339.04 669.88 339.39 671.38 339.74 672.89 340.09 674.39 340.43 675.90 340.78 677.41 341.12 678.93 341.46 680.45 341.80 681.96 342.14 683.49 342.48 685.01 342.82 686.54 343.15 688.08 343.49 689.61 343.82 691.15 344.16 692.70 344.49 694.25 344.82 695.81 345.15 697.37 345.48 698.93 345.81 700.50 346.14 702.08 346.47 703.66 346.80 705.25 347.13 706.85 347.46 708.45 347.79 710.06 348.12 711.68 348.45 713.30 348.45 713.30 348.61 714.19 348.77 715.08 348.93 715.97 349.09 716.86 349.25 717.75 349.41 718.63 349.57 719.52 349.73 720.41 349.89 721.30 350.05 722.18 350.21 723.07 350.37 723.96 350.54 724.84 350.70 725.73 350.86 726.61 351.03 727.50 351.19 728.38 351.36 729.26 351.52 730.15 351.69 731.03 351.85 731.91 352.02 732.80 352.18 733.68 352.35 734.56 352.52 735.44 352.68 736.32 352.85 737.20 353.02 738.08 353.19 738.96 353.36 739.84 353.53 740.72 353.70 741.60 353.87 742.48 354.04 743.36 354.21 744.24 354.38 745.12 354.55 746.00 354.72 746.87 354.89 747.75 355.06 748.63 355.24 749.50 355.41 750.38 355.58 751.26 355.76 752.13 355.93 753.01 356.11 753.88 356.28 754.76 356.46 755.63 356.63 756.50 356.81 757.38 356.99 758.25 357.16 759.13 357.34 760.00 357.52 760.87 357.70 761.74 357.87 762.62 358.05 763.49 358.23 764.36 358.41 765.23 358.59 766.10 358.77 766.98 358.95 767.85 359.13 768.72 359.32 769.59 359.50 770.46 359.68 771.33 359.86 772.20 360.05 773.07 360.23 773.94 360.41 774.80 360.60 775.67 360.78 776.54 360.97 777.41 361.15 778.28 361.34 779.15 361.52 780.01 361.71 780.88 361.90 781.75 362.08 782.62 362.27 783.48 362.46 784.35 362.65 785.22 362.83 786.08 363.02 786.95 363.21 787.82 363.40 788.68 363.59 789.55 363.78 790.41 363.97 791.28 364.17 792.14 364.36 793.01 364.55 793.87 364.74 794.74 364.93 795.60 365.13 796.46 365.32 797.33 365.52 798.19 365.71 799.06 365.90 799.92 366.10 800.78 366.30 801.65 366.49 802.51 366.69 803.37 366.88 804.24 367.08 805.10 367.28 805.96 367.48 806.82 367.68 807.69 367.87 808.55 368.07 809.41 368.27 810.27 368.47 811.13 368.67 812.00 368.87 812.86 369.07 813.72 369.27 814.58 369.48 815.44 369.68 816.30 369.88 817.16 370.08 818.02 370.29 818.88 370.49 819.74 370.70 820.61 370.90 821.47 371.10 822.33 371.31 823.19 371.52 824.05 371.72 824.91 371.93 825.77 372.13 826.63 372.34 827.49 372.55 828.35 372.76 829.21 372.97 830.07 373.17 830.93 373.38 831.79 373.59 832.64 373.80 833.50 374.01 834.36 374.22 835.22 374.44 836.08 374.65 836.94 374.86 837.80 375.07 838.66 375.28 839.52 375.50 840.38 375.71 841.24 375.93 842.10 376.14 842.95 376.35 843.81 376.57 844.67 376.79 845.53 377.00 846.39 377.22 847.25 377.43 848.11 377.65 848.97 377.87 849.82 378.09 850.68 378.31 851.54 378.52 852.40 378.74 853.26 378.96 854.12 379.18 854.98 379.40 855.84 379.62 856.69 379.84 857.55 380.07 858.41 380.29 859.27 380.51 860.13 380.73 860.99 380.96 861.85 381.18 862.70 381.40 863.56 381.63 864.42 381.85 865.28 382.08 866.14 382.30 867.00 382.53 867.86 382.76 868.72 382.98 869.58 383.21 870.43 383.44 871.29 383.67 872.15 383.89 873.01 384.12 873.87 384.35 874.73 384.58 875.59 384.81 876.45 385.04 877.31 385.27 878.17 385.51 879.03 385.74 879.89 385.97 880.75 386.20 881.61 386.43 882.47 386.67 883.33 386.90 884.19 387.14 885.05 387.37 885.91 387.61 886.77 387.84 887.63 388.08 888.49 388.31 889.35 388.55 890.21 388.79 891.07 389.02 891.93 389.26 892.79 389.50 893.65 389.74 894.52 389.98 895.38 390.22 896.24 390.46 897.10 390.70 897.96 390.94 898.82 391.18 899.68 391.42 900.55 391.66 901.41 391.91 902.27 392.15 903.13 392.39 904.00 392.64 904.86 392.88 905.72 393.13 906.58 393.37 907.45 393.62 908.31 393.86 909.17 394.11 910.04 394.35 910.90 394.60 911.77 394.85 912.63 395.10 913.49 395.35 914.36 395.59 915.22 395.84 916.09 396.09 916.95 396.34 917.82 396.59 918.68 396.84 919.55 397.10 920.41 397.35 921.28 397.60 922.15 397.85 923.01 398.11 923.88 398.36 924.74 398.61 925.61 398.87 926.48 399.12 927.35 399.38 928.21 399.63 929.08 399.89 929.95 400.15 930.82 400.40 931.68 400.66 932.55 400.92 933.42 401.18 934.28 401.44 935.15 401.70 936.02 401.96 936.89 402.23 937.75 402.49 938.62 402.76 939.48 403.02 940.35 403.29 941.22 403.56 942.08 403.83 942.95 404.10 943.81 404.37 944.67 404.64 945.54 404.92 946.40 405.19 947.26 405.47 948.12 405.75 948.98 406.03 949.84 406.31 950.70 406.59 951.56 406.87 952.42 407.16 953.28 407.45 954.13 407.73 954.99 408.03 955.84 408.32 956.70 408.61 957.55 408.91 958.40 409.21 959.25 409.50 960.10 409.81 960.95 410.11 961.80 410.41 962.64 410.72 963.49 411.03 964.33 411.34 965.18 411.66 966.02 411.97 966.86 412.29 967.70 412.61 968.53 412.93 969.37 413.26 970.20 413.58 971.04 413.91 971.87 414.24 972.70 414.58 973.53 414.92 974.35 415.25 975.18 415.60 976.00 415.94 976.82 416.29 977.65 416.64 978.46 416.99 979.28 417.34 980.09 417.70 980.91 418.06 981.72 418.43 982.53 418.79 983.34 419.16 984.14 419.54 984.94 419.91 985.74 420.29 986.54 420.67 987.34 421.05 988.14 421.44 988.93 421.83 989.72 422.23 990.51 422.62 991.29 423.03 992.08 423.43 992.86 423.84 993.64 424.25 994.41 424.66 995.19 425.08 995.96 425.50 996.73 425.93 997.49 426.35 998.26 426.79 999.02 427.22 999.78 427.66 1000.53 428.10 1001.29 428.55 1002.04 429.00 1002.79 429.46 1003.53 429.91 1004.27 430.38 1005.01 430.84 1005.75 431.31 1006.48 431.79 1007.21 432.27 1007.94 432.75 1008.66 433.24 1009.38 433.73 1010.09 434.23 1010.80 434.73 1011.51 435.24 1012.21 435.75 1012.91 436.27 1013.61 436.79 1014.30 437.32 1014.98 437.85 1015.67 438.39 1016.34 438.94 1017.01 439.48 1017.68 440.04 1018.34 440.60 1019.00 441.17 1019.65 441.74 1020.30 442.31 1020.94 442.90 1021.58 443.49 1022.21 444.08 1022.84 444.69 1023.46 445.29 1024.07 445.91 1024.68 446.53 1025.28 447.16 1025.88 447.79 1026.47 448.43 1027.05 449.08 1027.63 449.73 1028.20 450.39 1028.76 451.06 1029.32 451.74 1029.87 452.42 1030.41 453.11 1030.95 453.81 1031.48 454.51 1032.00 455.22 1032.52 455.94 1033.02 456.67 1033.52 457.40 1034.02 458.14 1034.50 458.90 1034.98 459.65 1035.45 460.42 1035.91 461.19 1036.36 461.98 1036.81 462.77 1037.25 463.57 1037.68 464.37 1038.10 465.19 1038.51 466.01 1038.91 466.85 1039.30 467.45 1037.87 468.02 1036.44 468.58 1035.00 469.12 1033.55 469.64 1032.10 470.14 1030.64 470.63 1029.17 471.10 1027.70 471.56 1026.23 472.00 1024.75 472.43 1023.26 472.84 1021.77 473.24 1020.27 473.62 1018.77 474.00 1017.27 474.36 1015.76 474.71 1014.25 475.04 1012.73 475.37 1011.21 475.68 1009.68 475.99 1008.15 476.28 1006.62 476.57 1005.09 476.85 1003.55 477.12 1002.01 477.38 1000.46 477.64 998.91 477.88 997.36 478.12 995.81 478.36 994.25 478.59 992.70 478.82 991.14 479.04 989.58 479.25 988.01 479.47 986.45 479.68 984.88 479.89 983.31 480.09 981.74 480.29 980.17 480.50 978.60 480.70 977.03 480.90 975.45 481.10 973.88 481.30 972.30 481.51 970.73 481.71 969.15 481.92 967.58 482.13 966.00 482.33 964.43 482.55 962.85 482.76 961.28 482.97 959.70 483.18 958.12 483.40 956.55 483.62 954.97 483.83 953.40 484.05 951.82 484.27 950.24 484.50 948.67 484.72 947.09 484.94 945.51 485.17 943.94 485.40 942.36 485.62 940.78 485.85 939.21 486.08 937.63 486.31 936.05 486.55 934.48 486.78 932.90 487.02 931.33 487.25 929.75 487.49 928.17 487.73 926.60 487.97 925.02 488.21 923.45 488.45 921.87 488.69 920.30 488.93 918.72 489.18 917.15 489.42 915.58 489.67 914.00 489.92 912.43 490.17 910.86 490.41 909.28 490.66 907.71 490.92 906.14 491.17 904.57 491.42 903.00 491.67 901.42 491.93 899.85 492.18 898.28 492.44 896.71 492.70 895.14 492.96 893.58 493.21 892.01 493.47 890.44 493.73 888.87 494.00 887.31 494.26 885.74 494.52 884.17 494.78 882.61 495.05 881.04 495.31 879.48 495.58 877.92 495.84 876.35 496.11 874.79 496.38 873.23 496.65 871.67 496.92 870.11 497.19 868.55 497.46 866.99 497.73 865.43 498.00 863.87 498.27 862.32 498.54 860.76 498.82 859.20 499.09 857.65 499.37 856.09 499.64 854.54 499.92 852.98 500.20 851.43 500.47 849.88 500.75 848.32 501.03 846.77 501.31 845.22 501.59 843.67 501.88 842.12 502.16 840.57 502.44 839.02 502.73 837.47 503.01 835.92 503.29 834.37 503.58 832.82 503.87 831.27 504.16 829.72 504.44 828.18 504.73 826.63 505.02 825.08 505.31 823.54 505.60 821.99 505.90 820.44 506.19 818.90 506.48 817.35 506.78 815.81 507.07 814.26 507.37 812.72 507.67 811.18 507.96 809.63 508.26 808.09 508.56 806.54 508.86 805.00 509.16 803.46 509.46 801.91 509.77 800.37 510.07 798.83 510.37 797.29 510.68 795.75 510.98 794.20 511.29 792.66 511.60 791.12 511.91 789.58 512.22 788.04 512.53 786.49 512.84 784.95 513.15 783.41 513.46 781.87 513.77 780.33 514.09 778.79 514.40 777.25 514.72 775.71 515.03 774.17 515.35 772.62 515.67 771.08 515.99 769.54 516.31 768.00 516.63 766.46 516.95 764.92 517.27 763.38 517.60 761.84 517.92 760.29 518.25 758.75 518.57 757.21 518.90 755.67 519.23 754.13 519.56 752.59 519.89 751.04 520.22 749.50 520.55 747.96 520.88 746.42 521.22 744.88 521.55 743.33 521.89 741.79 522.22 740.25 522.56 738.70 522.90 737.16 523.24 735.62 523.58 734.07 523.92 732.53 524.26 730.98 524.60 729.44 524.95 727.89 525.29 726.35 525.64 724.80 525.98 723.26 526.33 721.71 526.68 720.16 527.03 718.62 527.38 717.07 527.73 715.52 528.08 713.97 528.44 712.43 528.79 710.88 529.15 709.33 529.50 707.78 529.86 706.23 530.22 704.68 530.58 703.13 530.94 701.58 531.30 700.03 531.66 698.47 532.02 696.92 532.39 695.37 532.75 693.82 533.12 692.26 533.49 690.71 533.85 689.15 534.22 687.60 534.59 686.04 534.97 684.48 535.34 682.93 535.71 681.37 536.09 679.81 536.46 678.25 536.84 676.69 537.22 675.13 537.59 673.57 537.97 672.01 538.35 670.45 538.74 668.89 539.12 667.32 539.50 665.76 539.89 664.20 540.27 662.63 540.66 661.07 541.05 659.50 541.44 657.93 541.83 656.36 542.22 654.80 542.61 653.23 543.01 651.66 543.40 650.09 543.80 648.51 544.20 646.94 544.60 645.37 545.00 643.80 545.41 642.23 545.82 640.67 546.24 639.10 546.66 637.54 547.09 635.98 547.52 634.43 547.97 632.88 548.42 631.33 548.87 629.79 549.34 628.26 549.81 626.73 550.30 625.20 550.79 623.69 551.30 622.18 551.82 620.67 552.35 619.18 552.89 617.69 553.44 616.22 554.01 614.75 554.59 613.29 555.19 611.84 555.80 610.41 556.43 608.98 557.07 607.57 557.73 606.16 558.41 604.77 559.11 603.40 559.82 602.03 560.55 600.68 561.31 599.35 562.08 598.02 562.87 596.72 563.69 595.43 564.52 594.15 565.38 592.89 566.26 591.65 567.17 590.43 568.09 589.22 569.05 588.03 570.02 586.86 571.03 585.71 572.05 584.58 573.11 583.47 574.19 582.38 575.29 581.33 576.41 580.34 577.54 579.44 578.68 578.65 579.82 577.98 580.95 577.47 582.07 577.13 583.18 576.98 584.26 577.04 585.32 577.32 586.34 577.80 587.33 578.47 588.29 579.30 589.20 580.29 590.06 581.42 590.88 582.68 591.64 584.04 592.34 585.50 593.00 587.04 593.62 588.64 594.21 590.29 594.78 591.97 595.33 593.66 595.87 595.35 596.40 597.03 596.93 598.70 597.45 600.37 597.97 602.02 598.48 603.67 598.99 605.31 599.49 606.94 599.99 608.57 600.48 610.18 600.96 611.79 601.45 613.40 601.92 614.99 602.39 616.58 602.86 618.17 603.32 619.75 603.78 621.32 604.23 622.88 604.68 624.45 605.12 626.00 605.56 627.55 606.00 629.10 606.43 630.64 606.86 632.18 607.28 633.71 607.70 635.24 608.12 636.77 608.53 638.29 608.94 639.81 609.35 641.33 609.75 642.84 610.15 644.36 610.54 645.86 610.93 647.37 611.32 648.88 611.71 650.38 612.09 651.88 612.47 653.38 612.85 654.88 613.22 656.38 613.60 657.88 613.97 659.38 614.33 660.88 614.70 662.38 615.06 663.88 615.42 665.38 615.78 666.88 616.13 668.38 616.49 669.88 616.84 671.38 617.19 672.89 617.54 674.39 617.88 675.90 618.23 677.41 618.57 678.93 618.91 680.45 619.25 681.96 619.59 683.49 619.93 685.01 620.27 686.54 620.60 688.08 620.94 689.61 621.27 691.15 621.61 692.70 621.94 694.25 622.27 695.81 622.60 697.37 622.93 698.93 623.26 700.50 623.59 702.08 623.92 703.66 624.25 705.25 624.58 706.85 624.91 708.45 625.24 710.06 625.57 711.68 625.90 713.30 625.90 713.30 626.06 714.19 626.22 715.08 626.38 715.97 626.54 716.86 626.70 717.75 626.86 718.63 627.02 719.52 627.18 720.41 627.34 721.30 627.50 722.18 627.66 723.07 627.82 723.96 627.99 724.84 628.15 725.73 628.31 726.61 628.48 727.50 628.64 728.38 628.81 729.26 628.97 730.15 629.14 731.03 629.30 731.91 629.47 732.80 629.63 733.68 629.80 734.56 629.97 735.44 630.13 736.32 630.30 737.20 630.47 738.08 630.64 738.96 630.81 739.84 630.98 740.72 631.15 741.60 631.32 742.48 631.49 743.36 631.66 744.24 631.83 745.12 632.00 746.00 632.17 746.87 632.34 747.75 632.51 748.63 632.69 749.50 632.86 750.38 633.03 751.26 633.21 752.13 633.38 753.01 633.56 753.88 633.73 754.76 633.91 755.63 634.08 756.50 634.26 757.38 634.44 758.25 634.61 759.13 634.79 760.00 634.97 760.87 635.15 761.74 635.32 762.62 635.50 763.49 635.68 764.36 635.86 765.23 636.04 766.10 636.22 766.98 636.40 767.85 636.58 768.72 636.77 769.59 636.95 770.46 637.13 771.33 637.31 772.20 637.50 773.07 637.68 773.94 637.86 774.80 638.05 775.67 638.23 776.54 638.42 777.41 638.60 778.28 638.79 779.15 638.97 780.01 639.16 780.88 639.35 781.75 639.53 782.62 639.72 783.48 639.91 784.35 640.10 785.22 640.28 786.08 640.47 786.95 640.66 787.82 640.85 788.68 641.04 789.55 641.23 790.41 641.42 791.28 641.62 792.14 641.81 793.01 642.00 793.87 642.19 794.74 642.38 795.60 642.58 796.46 642.77 797.33 642.97 798.19 643.16 799.06 643.35 799.92 643.55 800.78 643.75 801.65 643.94 802.51 644.14 803.37 644.33 804.24 644.53 805.10 644.73 805.96 644.93 806.82 645.13 807.69 645.32 808.55 645.52 809.41 645.72 810.27 645.92 811.13 646.12 812.00 646.32 812.86 646.52 813.72 646.72 814.58 646.93 815.44 647.13 816.30 647.33 817.16 647.53 818.02 647.74 818.88 647.94 819.74 648.15 820.61 648.35 821.47 648.55 822.33 648.76 823.19 648.97 824.05 649.17 824.91 649.38 825.77 649.58 826.63 649.79 827.49 650.00 828.35 650.21 829.21 650.42 830.07 650.62 830.93 650.83 831.79 651.04 832.64 651.25 833.50 651.46 834.36 651.67 835.22 651.89 836.08 652.10 836.94 652.31 837.80 652.52 838.66 652.73 839.52 652.95 840.38 653.16 841.24 653.38 842.10 653.59 842.95 653.80 843.81 654.02 844.67 654.24 845.53 654.45 846.39 654.67 847.25 654.88 848.11 655.10 848.97 655.32 849.82 655.54 850.68 655.76 851.54 655.97 852.40 656.19 853.26 656.41 854.12 656.63 854.98 656.85 855.84 657.07 856.69 657.29 857.55 657.52 858.41 657.74 859.27 657.96 860.13 658.18 860.99 658.41 861.85 658.63 862.70 658.85 863.56 659.08 864.42 659.30 865.28 659.53 866.14 659.75 867.00 659.98 867.86 660.21 868.72 660.43 869.58 660.66 870.43 660.89 871.29 661.12 872.15 661.34 873.01 661.57 873.87 661.80 874.73 662.03 875.59 662.26 876.45 662.49 877.31 662.72 878.17 662.96 879.03 663.19 879.89 663.42 880.75 663.65 881.61 663.88 882.47 664.12 883.33 664.35 884.19 664.59 885.05 664.82 885.91 665.06 886.77 665.29 887.63 665.53 888.49 665.76 889.35 666.00 890.21 666.24 891.07 666.47 891.93 666.71 892.79 666.95 893.65 667.19 894.52 667.43 895.38 667.67 896.24 667.91 897.10 668.15 897.96 668.39 898.82 668.63 899.68 668.87 900.55 669.11 901.41 669.36 902.27 669.60 903.13 669.84 904.00 670.09 904.86 670.33 905.72 670.58 906.58 670.82 907.45 671.07 908.31 671.31 909.17 671.56 910.04 671.80 910.90 672.05 911.77 672.30 912.63 672.55 913.49 672.80 914.36 673.04 915.22 673.29 916.09 673.54 916.95 673.79 917.82 674.04 918.68 674.29 919.55 674.55 920.41 674.80 921.28 675.05 922.15 675.30 923.01 675.56 923.88 675.81 924.74 676.06 925.61 676.32 926.48 676.57 927.35 676.83 928.21 677.08 929.08 677.34 929.95 677.60 930.82 677.85 931.68 678.11 932.55 678.37 933.42 678.63 934.28 678.89 935.15 679.15 936.02 679.41 936.89 679.68 937.75 679.94 938.62 680.21 939.48 680.47 940.35 680.74 941.22 681.01 942.08 681.28 942.95 681.55 943.81 681.82 944.67 682.09 945.54 682.37 946.40 682.64 947.26 682.92 948.12 683.20 948.98 683.48 949.84 683.76 950.70 684.04 951.56 684.32 952.42 684.61 953.28 684.90 954.13 685.18 954.99 685.48 955.84 685.77 956.70 686.06 957.55 686.36 958.40 686.66 959.25 686.95 960.10 687.26 960.95 687.56 961.80 687.86 962.64 688.17 963.49 688.48 964.33 688.79 965.18 689.11 966.02 689.42 966.86 689.74 967.70 690.06 968.53 690.38 969.37 690.71 970.20 691.03 971.04 691.36 971.87 691.69 972.70 692.03 973.53 692.37 974.35 692.70 975.18 693.05 976.00 693.39 976.82 693.74 977.65 694.09 978.46 694.44 979.28 694.79 980.09 695.15 980.91 695.51 981.72 695.88 982.53 696.24 983.34 696.61 984.14 696.99 984.94 697.36 985.74 697.74 986.54 698.12 987.34 698.50 988.14 698.89 988.93 699.28 989.72 699.68 990.51 700.07 991.29 700.48 992.08 700.88 992.86 701.29 993.64 701.70 994.41 702.11 995.19 702.53 995.96 702.95 996.73 703.38 997.49 703.80 998.26 704.24 999.02 704.67 999.78 705.11 1000.53 705.55 1001.29 706.00 1002.04 706.45 1002.79 706.91 1003.53 707.36 1004.27 707.83 1005.01" stroke="#fa7d80" stroke-width="7.1"/>
</g>
<rect x="281" y="991.4" width="411.1" height="63.8" fill="#fff" stroke="#111" stroke-width="1.3"/>
<path d="M284 1001.1H329" stroke="#d82828" stroke-width="1.4"/>
<path d="M285 1021.9H329.5" stroke="#f97a35" stroke-width="3.8" stroke-linecap="round"/>
<path d="M285.3 1042.4H329" stroke="#fa7c80" stroke-width="6.2" stroke-linecap="round"/>
<text x="335.2" y="1005.0" font-size="15.2" textLength="298" lengthAdjust="spacingAndGlyphs">20/min, low activity, no active expiratory effort</text>
<text x="335.2" y="1025.5" font-size="15.2" textLength="349" lengthAdjust="spacingAndGlyphs">24/min, moderate activity, 15% active expiratory effort</text>
<text x="335.2" y="1045.9" font-size="15.2" textLength="315" lengthAdjust="spacingAndGlyphs">34/min, high activity, 40% active expiratory effort</text>
</svg></body></html>
